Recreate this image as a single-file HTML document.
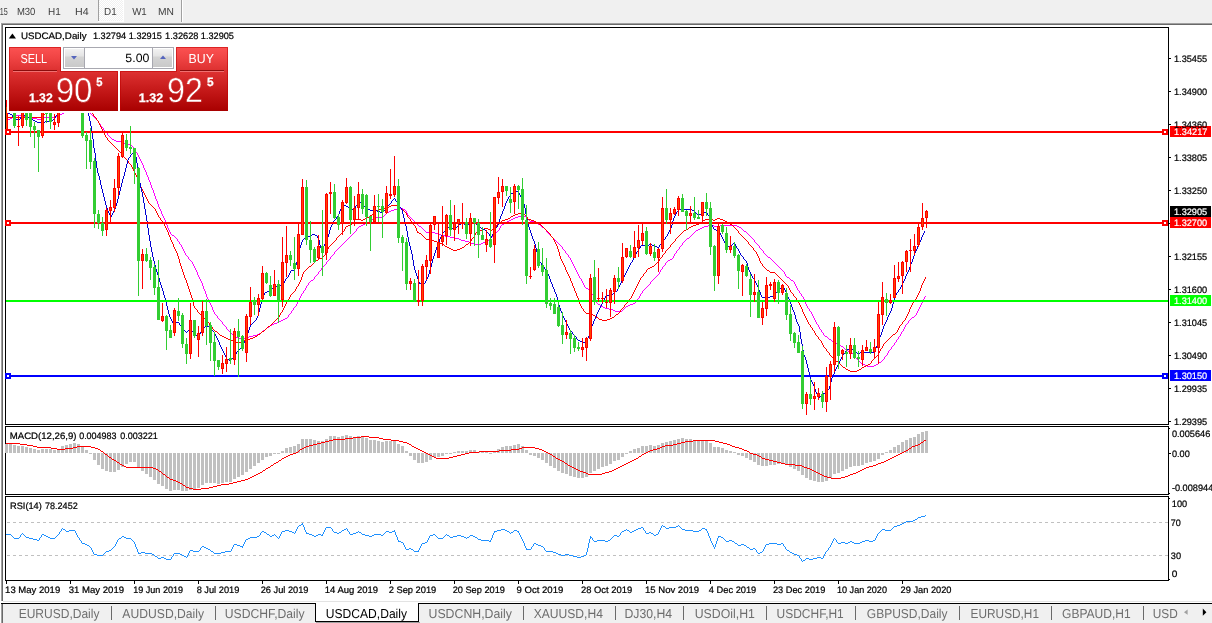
<!DOCTYPE html>
<html lang="en"><head><meta charset="utf-8"><title>USDCAD,Daily</title>
<style>html,body{margin:0;padding:0;background:#fff;overflow:hidden}body{width:1212px;height:623px}svg text{white-space:pre}</style>
</head><body>
<svg width="1212" height="623" viewBox="0 0 1212 623" font-family="'Liberation Sans', Arial, sans-serif" text-rendering="geometricPrecision" style="display:block">
<defs>
<linearGradient id="gbtn" x1="0" y1="47" x2="0" y2="71" gradientUnits="userSpaceOnUse"><stop offset="0" stop-color="#fc5252"/><stop offset="0.45" stop-color="#f04444"/><stop offset="1" stop-color="#dc3030"/></linearGradient>
<linearGradient id="gpan" x1="0" y1="71" x2="0" y2="111" gradientUnits="userSpaceOnUse"><stop offset="0" stop-color="#de3232"/><stop offset="0.5" stop-color="#c41818"/><stop offset="1" stop-color="#a80000"/></linearGradient>
<linearGradient id="gspin" x1="0" y1="48" x2="0" y2="68" gradientUnits="userSpaceOnUse"><stop offset="0" stop-color="#f4f4f4"/><stop offset="0.4" stop-color="#e4e4e4"/><stop offset="0.45" stop-color="#d4d4d4"/><stop offset="1" stop-color="#c8c8c8"/></linearGradient>
<pattern id="dith" width="2" height="2" patternUnits="userSpaceOnUse"><rect width="2" height="2" fill="#f0f0f0"/><rect width="1" height="1" fill="#ffffff"/><rect x="1" y="1" width="1" height="1" fill="#ffffff"/></pattern>
<clipPath id="cmain"><rect x="6" y="28" width="1162" height="396"/></clipPath>
<clipPath id="cright"><rect x="0" y="0" width="1212" height="623"/></clipPath>
</defs>
<rect x="0" y="0" width="1212" height="623" fill="#ffffff"/>
<rect x="0" y="0" width="1212" height="23" fill="#f0f0f0"/>
<rect x="1" y="23" width="1212" height="1" fill="#a0a0a0"/>
<rect x="2" y="24" width="1212" height="1" fill="#696969"/>
<rect x="99" y="0" width="24" height="21" fill="url(#dith)"/>
<rect x="98" y="0" width="1" height="21" fill="#a0a0a0"/>
<rect x="123" y="0" width="1" height="22" fill="#ffffff"/>
<rect x="98" y="21" width="26" height="1" fill="#ffffff"/>
<rect x="181" y="0" width="1" height="22" fill="#a0a0a0"/>
<rect x="182" y="0" width="1" height="22" fill="#ffffff"/>
<rect x="0" y="25" width="1" height="598" fill="#ffffff"/>
<rect x="1" y="23" width="1" height="600" fill="#a0a0a0"/>
<rect x="2" y="24" width="1" height="599" fill="#696969"/>
<rect x="3" y="601" width="1212" height="1" fill="#e3e3e3"/>
<rect x="3" y="602" width="1212" height="1" fill="#ffffff"/>
<rect x="1" y="601" width="2" height="2" fill="#ffffff"/>
<rect x="1" y="603" width="1212" height="1" fill="#000000"/>
<rect x="3" y="604" width="1212" height="19" fill="#f0f0f0"/>
<rect x="315" y="602" width="104" height="20" fill="#ffffff"/>
<rect x="315" y="603" width="1" height="19" fill="#000"/>
<rect x="418" y="603" width="1" height="19" fill="#000"/>
<rect x="315" y="621" width="104" height="1" fill="#000"/>
<rect x="316" y="603" width="102" height="1" fill="#ffffff"/>
<rect x="316" y="622" width="104" height="1" fill="#a0a0a0"/>
<rect x="111" y="606" width="1" height="14" fill="#6a6a6a"/>
<rect x="215" y="606" width="1" height="14" fill="#6a6a6a"/>
<rect x="523" y="606" width="1" height="14" fill="#6a6a6a"/>
<rect x="615" y="606" width="1" height="14" fill="#6a6a6a"/>
<rect x="683" y="606" width="1" height="14" fill="#6a6a6a"/>
<rect x="766" y="606" width="1" height="14" fill="#6a6a6a"/>
<rect x="855" y="606" width="1" height="14" fill="#6a6a6a"/>
<rect x="959" y="606" width="1" height="14" fill="#6a6a6a"/>
<rect x="1051" y="606" width="1" height="14" fill="#6a6a6a"/>
<rect x="1143" y="606" width="1" height="14" fill="#6a6a6a"/>
<path d="M1184 612.2 l3.6 -2.6 v5.2 z" fill="#a0a0a0"/>
<path d="M1206.4 612.2 l-3.6 -3.6 v7.2 z" fill="#000"/>
<rect x="5" y="27" width="1164" height="1" fill="#000"/>
<rect x="5" y="27" width="1" height="398" fill="#000"/>
<rect x="5" y="424" width="1164" height="1" fill="#000"/>
<rect x="1168" y="27" width="1" height="398" fill="#000"/>
<rect x="5" y="426" width="1164" height="1" fill="#000"/>
<rect x="5" y="426" width="1" height="69" fill="#000"/>
<rect x="5" y="494" width="1164" height="1" fill="#000"/>
<rect x="1168" y="426" width="1" height="69" fill="#000"/>
<rect x="5" y="496" width="1164" height="1" fill="#000"/>
<rect x="5" y="496" width="1" height="85" fill="#000"/>
<rect x="5" y="580" width="1164" height="1" fill="#000"/>
<rect x="1168" y="496" width="1" height="85" fill="#000"/>
<g shape-rendering="crispEdges">
<path d="M66 100h24v1h-24zM66 101h1v2h-1zM89 101h1v6h-1zM65 103h1v4h-1zM64 107h1v4h-1zM90 107h1v7h-1zM63 111h1v2h-1zM62 113h2v1h-2zM60 114h2v1h-2zM91 114h1v1h-1zM16 115h8v1h-8zM58 115h2v1h-2zM92 115h1v1h-1zM14 116h2v1h-2zM24 116h3v1h-3zM56 116h2v1h-2zM93 116h1v1h-1zM12 117h2v1h-2zM27 117h5v1h-5zM44 117h12v1h-12zM94 117h1v1h-1zM10 118h2v1h-2zM32 118h5v1h-5zM42 118h2v1h-2zM95 118h1v1h-1zM8 119h2v1h-2zM37 119h5v1h-5zM96 119h1v1h-1zM97 120h1v1h-1zM98 121h1v2h-1zM99 123h1v1h-1zM100 124h1v2h-1zM101 126h1v1h-1zM102 127h1v1h-1zM103 128h1v2h-1zM104 130h1v1h-1zM105 131h1v1h-1zM106 132h1v1h-1zM107 133h1v2h-1zM108 135h1v1h-1zM109 136h1v1h-1zM110 137h1v1h-1zM111 138h1v1h-1zM112 139h2v1h-2zM114 140h2v1h-2zM116 141h6v1h-6zM122 142h2v1h-2zM124 143h3v1h-3zM127 144h3v1h-3zM130 145h2v1h-2zM132 146h1v1h-1zM133 147h1v1h-1zM134 148h1v2h-1zM135 150h1v2h-1zM136 152h1v1h-1zM137 153h1v2h-1zM138 155h1v2h-1zM139 157h1v2h-1zM140 159h1v2h-1zM141 161h1v2h-1zM142 163h1v2h-1zM143 165h1v3h-1zM144 168h1v2h-1zM145 170h1v2h-1zM146 172h1v3h-1zM147 175h1v2h-1zM148 177h1v3h-1zM149 180h1v2h-1zM150 182h1v3h-1zM151 185h1v3h-1zM152 188h1v2h-1zM153 190h1v3h-1zM154 193h1v3h-1zM155 196h1v3h-1zM156 199h1v2h-1zM157 201h1v3h-1zM158 204h1v3h-1zM159 207h1v2h-1zM397 208h6v1h-6zM160 209h1v2h-1zM394 209h3v1h-3zM403 209h2v1h-2zM391 210h3v1h-3zM405 210h1v1h-1zM161 211h1v3h-1zM389 211h2v1h-2zM406 211h1v2h-1zM387 212h2v1h-2zM386 213h1v1h-1zM407 213h1v2h-1zM162 214h1v2h-1zM385 214h1v1h-1zM384 215h1v1h-1zM408 215h1v1h-1zM521 215h3v1h-3zM163 216h1v2h-1zM382 216h2v1h-2zM409 216h1v1h-1zM518 216h3v1h-3zM524 216h2v1h-2zM376 217h6v1h-6zM410 217h1v1h-1zM515 217h3v1h-3zM526 217h1v1h-1zM164 218h1v2h-1zM374 218h2v1h-2zM411 218h1v1h-1zM513 218h2v1h-2zM527 218h1v1h-1zM372 219h2v1h-2zM412 219h1v1h-1zM511 219h2v1h-2zM528 219h1v1h-1zM165 220h1v3h-1zM370 220h2v1h-2zM413 220h1v1h-1zM509 220h2v1h-2zM529 220h1v1h-1zM369 221h1v1h-1zM414 221h1v1h-1zM507 221h2v1h-2zM530 221h5v1h-5zM367 222h2v1h-2zM415 222h1v1h-1zM505 222h2v1h-2zM535 222h2v1h-2zM166 223h1v2h-1zM365 223h2v1h-2zM416 223h1v1h-1zM504 223h1v1h-1zM537 223h1v1h-1zM363 224h2v1h-2zM417 224h1v1h-1zM502 224h2v1h-2zM538 224h2v1h-2zM167 225h1v3h-1zM361 225h2v1h-2zM418 225h1v1h-1zM501 225h1v1h-1zM540 225h1v1h-1zM708 225h6v1h-6zM720 225h17v1h-17zM359 226h2v1h-2zM419 226h2v1h-2zM500 226h1v2h-1zM541 226h1v1h-1zM704 226h4v1h-4zM714 226h6v1h-6zM737 226h2v1h-2zM358 227h1v1h-1zM421 227h1v1h-1zM542 227h2v1h-2zM702 227h2v1h-2zM739 227h2v1h-2zM168 228h1v2h-1zM357 228h1v1h-1zM422 228h1v1h-1zM499 228h1v2h-1zM544 228h1v1h-1zM700 228h2v1h-2zM741 228h1v1h-1zM356 229h1v2h-1zM423 229h1v1h-1zM545 229h1v1h-1zM698 229h2v1h-2zM742 229h1v1h-1zM169 230h1v2h-1zM424 230h1v1h-1zM498 230h1v1h-1zM546 230h1v2h-1zM696 230h2v1h-2zM743 230h1v1h-1zM355 231h1v1h-1zM425 231h1v1h-1zM497 231h1v1h-1zM695 231h1v1h-1zM744 231h2v1h-2zM170 232h1v2h-1zM354 232h1v1h-1zM426 232h9v1h-9zM496 232h1v1h-1zM547 232h1v1h-1zM694 232h1v1h-1zM746 232h1v1h-1zM353 233h1v1h-1zM435 233h4v1h-4zM495 233h1v1h-1zM548 233h1v1h-1zM693 233h1v1h-1zM747 233h1v1h-1zM171 234h1v1h-1zM352 234h1v1h-1zM439 234h2v1h-2zM494 234h1v1h-1zM549 234h1v1h-1zM692 234h1v1h-1zM748 234h1v1h-1zM172 235h2v1h-2zM351 235h1v1h-1zM441 235h4v1h-4zM493 235h1v1h-1zM550 235h1v1h-1zM691 235h1v1h-1zM749 235h1v1h-1zM174 236h1v1h-1zM350 236h1v1h-1zM445 236h5v1h-5zM492 236h1v1h-1zM551 236h1v1h-1zM690 236h1v1h-1zM750 236h1v1h-1zM175 237h1v1h-1zM349 237h1v1h-1zM450 237h5v1h-5zM491 237h1v1h-1zM552 237h1v1h-1zM689 237h1v1h-1zM751 237h1v1h-1zM176 238h1v1h-1zM348 238h1v1h-1zM455 238h4v1h-4zM490 238h1v1h-1zM553 238h1v1h-1zM687 238h2v1h-2zM752 238h1v1h-1zM177 239h1v2h-1zM347 239h1v1h-1zM459 239h2v1h-2zM489 239h1v1h-1zM554 239h1v1h-1zM686 239h1v1h-1zM753 239h1v1h-1zM346 240h1v1h-1zM461 240h4v1h-4zM488 240h1v1h-1zM555 240h1v1h-1zM685 240h1v1h-1zM754 240h1v2h-1zM178 241h1v1h-1zM345 241h1v1h-1zM465 241h4v1h-4zM487 241h1v1h-1zM556 241h1v1h-1zM684 241h1v1h-1zM179 242h1v2h-1zM344 242h1v1h-1zM469 242h2v1h-2zM483 242h4v1h-4zM557 242h1v1h-1zM683 242h1v1h-1zM755 242h1v1h-1zM343 243h1v1h-1zM471 243h3v1h-3zM481 243h2v1h-2zM558 243h1v1h-1zM682 243h1v2h-1zM756 243h1v1h-1zM180 244h1v1h-1zM342 244h1v1h-1zM474 244h7v1h-7zM559 244h1v1h-1zM757 244h1v1h-1zM181 245h1v2h-1zM341 245h1v1h-1zM560 245h1v1h-1zM681 245h1v1h-1zM758 245h1v1h-1zM340 246h1v1h-1zM561 246h1v1h-1zM680 246h1v1h-1zM759 246h1v2h-1zM182 247h1v2h-1zM339 247h1v1h-1zM562 247h1v2h-1zM679 247h1v2h-1zM338 248h1v1h-1zM760 248h1v1h-1zM183 249h1v2h-1zM337 249h1v1h-1zM563 249h1v1h-1zM678 249h1v1h-1zM761 249h1v1h-1zM336 250h1v1h-1zM564 250h1v1h-1zM677 250h1v1h-1zM762 250h1v1h-1zM184 251h1v2h-1zM335 251h1v1h-1zM565 251h1v2h-1zM676 251h1v2h-1zM763 251h1v2h-1zM334 252h1v2h-1zM185 253h1v2h-1zM566 253h1v1h-1zM675 253h1v1h-1zM764 253h1v1h-1zM333 254h1v1h-1zM567 254h1v1h-1zM674 254h1v2h-1zM765 254h1v1h-1zM186 255h1v1h-1zM332 255h1v1h-1zM568 255h1v2h-1zM766 255h1v1h-1zM187 256h1v1h-1zM331 256h1v1h-1zM673 256h1v2h-1zM767 256h1v1h-1zM188 257h1v2h-1zM330 257h1v2h-1zM569 257h1v1h-1zM768 257h2v1h-2zM570 258h1v2h-1zM672 258h1v1h-1zM770 258h1v1h-1zM189 259h1v1h-1zM329 259h1v1h-1zM670 259h2v1h-2zM771 259h1v1h-1zM190 260h1v1h-1zM328 260h1v1h-1zM571 260h1v2h-1zM668 260h2v1h-2zM772 260h1v1h-1zM191 261h1v1h-1zM327 261h1v1h-1zM667 261h1v1h-1zM773 261h1v1h-1zM192 262h1v2h-1zM326 262h1v2h-1zM572 262h1v2h-1zM666 262h1v1h-1zM774 262h1v1h-1zM665 263h1v2h-1zM775 263h1v1h-1zM193 264h1v2h-1zM325 264h1v1h-1zM573 264h1v2h-1zM776 264h1v1h-1zM324 265h1v1h-1zM664 265h1v1h-1zM777 265h1v1h-1zM194 266h1v2h-1zM323 266h1v1h-1zM574 266h1v2h-1zM663 266h1v1h-1zM778 266h1v1h-1zM322 267h1v1h-1zM662 267h1v2h-1zM779 267h1v1h-1zM195 268h1v2h-1zM321 268h1v2h-1zM575 268h1v2h-1zM780 268h1v1h-1zM661 269h1v1h-1zM781 269h1v1h-1zM196 270h1v2h-1zM320 270h1v1h-1zM576 270h1v2h-1zM660 270h1v2h-1zM782 270h1v1h-1zM319 271h1v1h-1zM783 271h1v1h-1zM197 272h1v3h-1zM318 272h1v2h-1zM577 272h1v2h-1zM659 272h1v2h-1zM784 272h1v2h-1zM317 274h1v1h-1zM578 274h1v2h-1zM658 274h1v1h-1zM785 274h1v2h-1zM198 275h1v2h-1zM316 275h1v1h-1zM657 275h1v1h-1zM315 276h1v1h-1zM579 276h1v2h-1zM656 276h1v1h-1zM786 276h1v1h-1zM199 277h1v2h-1zM314 277h1v2h-1zM655 277h1v1h-1zM787 277h2v1h-2zM580 278h1v1h-1zM654 278h1v1h-1zM789 278h1v1h-1zM200 279h1v2h-1zM313 279h1v1h-1zM581 279h1v2h-1zM653 279h1v1h-1zM790 279h1v1h-1zM311 280h2v1h-2zM652 280h1v1h-1zM791 280h2v1h-2zM201 281h1v2h-1zM310 281h1v1h-1zM582 281h1v2h-1zM651 281h1v1h-1zM793 281h1v1h-1zM309 282h1v1h-1zM650 282h1v2h-1zM794 282h1v2h-1zM202 283h1v3h-1zM308 283h1v2h-1zM583 283h1v2h-1zM649 284h1v1h-1zM795 284h1v2h-1zM307 285h1v1h-1zM584 285h1v2h-1zM648 285h1v1h-1zM203 286h1v3h-1zM306 286h1v2h-1zM647 286h1v1h-1zM796 286h1v2h-1zM585 287h1v1h-1zM646 287h1v1h-1zM305 288h1v2h-1zM586 288h2v1h-2zM645 288h1v1h-1zM797 288h1v2h-1zM204 289h1v2h-1zM588 289h1v1h-1zM644 289h1v1h-1zM304 290h1v1h-1zM589 290h1v1h-1zM643 290h1v1h-1zM798 290h1v1h-1zM205 291h1v3h-1zM303 291h1v2h-1zM590 291h1v1h-1zM642 291h1v2h-1zM799 291h1v2h-1zM591 292h1v2h-1zM302 293h1v1h-1zM641 293h1v1h-1zM800 293h1v1h-1zM206 294h1v3h-1zM301 294h1v2h-1zM592 294h1v1h-1zM640 294h1v2h-1zM801 294h1v2h-1zM593 295h1v2h-1zM300 296h1v2h-1zM639 296h1v2h-1zM802 296h1v1h-1zM925 296h1v1h-1zM207 297h1v2h-1zM594 297h1v2h-1zM803 297h1v2h-1zM924 297h1v2h-1zM299 298h1v2h-1zM638 298h1v1h-1zM208 299h1v2h-1zM595 299h1v2h-1zM637 299h1v1h-1zM804 299h1v2h-1zM923 299h1v2h-1zM298 300h1v2h-1zM636 300h1v2h-1zM209 301h1v2h-1zM596 301h1v2h-1zM805 301h1v3h-1zM922 301h1v2h-1zM297 302h1v2h-1zM635 302h1v1h-1zM210 303h1v2h-1zM597 303h1v1h-1zM633 303h2v1h-2zM921 303h1v2h-1zM296 304h1v2h-1zM598 304h2v1h-2zM630 304h3v1h-3zM806 304h1v2h-1zM211 305h1v2h-1zM600 305h1v1h-1zM628 305h2v1h-2zM920 305h1v2h-1zM295 306h1v1h-1zM601 306h2v1h-2zM626 306h2v1h-2zM807 306h1v2h-1zM212 307h1v3h-1zM294 307h1v1h-1zM603 307h2v1h-2zM625 307h1v1h-1zM919 307h1v2h-1zM293 308h1v2h-1zM605 308h4v1h-4zM624 308h1v1h-1zM808 308h1v1h-1zM609 309h4v1h-4zM623 309h1v1h-1zM809 309h1v2h-1zM918 309h1v2h-1zM213 310h1v2h-1zM292 310h1v1h-1zM613 310h2v1h-2zM622 310h1v1h-1zM291 311h1v2h-1zM615 311h7v1h-7zM810 311h1v1h-1zM917 311h1v2h-1zM214 312h1v2h-1zM811 312h1v2h-1zM290 313h1v1h-1zM916 313h1v2h-1zM215 314h1v1h-1zM289 314h1v1h-1zM812 314h1v2h-1zM216 315h1v1h-1zM288 315h1v2h-1zM915 315h1v1h-1zM217 316h1v2h-1zM813 316h1v2h-1zM914 316h1v1h-1zM287 317h1v1h-1zM912 317h2v1h-2zM218 318h1v1h-1zM285 318h2v1h-2zM814 318h1v2h-1zM911 318h1v1h-1zM219 319h1v1h-1zM283 319h2v1h-2zM910 319h1v1h-1zM220 320h1v1h-1zM281 320h2v1h-2zM815 320h1v2h-1zM909 320h1v1h-1zM221 321h1v1h-1zM279 321h2v1h-2zM908 321h1v2h-1zM222 322h1v2h-1zM277 322h2v1h-2zM816 322h1v2h-1zM274 323h3v1h-3zM907 323h1v1h-1zM223 324h1v1h-1zM272 324h2v1h-2zM817 324h1v1h-1zM906 324h1v1h-1zM224 325h1v1h-1zM270 325h2v1h-2zM818 325h1v2h-1zM905 325h1v2h-1zM225 326h1v1h-1zM269 326h1v1h-1zM226 327h1v2h-1zM267 327h2v1h-2zM819 327h1v2h-1zM904 327h1v2h-1zM266 328h1v1h-1zM227 329h1v1h-1zM265 329h1v1h-1zM820 329h1v1h-1zM903 329h1v2h-1zM228 330h1v1h-1zM263 330h2v1h-2zM821 330h1v2h-1zM229 331h1v1h-1zM262 331h1v1h-1zM902 331h1v1h-1zM230 332h1v1h-1zM261 332h1v1h-1zM822 332h1v1h-1zM901 332h1v2h-1zM231 333h1v1h-1zM259 333h2v1h-2zM823 333h1v2h-1zM232 334h1v1h-1zM257 334h2v1h-2zM900 334h1v2h-1zM233 335h1v1h-1zM253 335h4v1h-4zM824 335h1v1h-1zM234 336h2v1h-2zM249 336h4v1h-4zM825 336h2v1h-2zM899 336h1v1h-1zM236 337h2v1h-2zM247 337h2v1h-2zM827 337h1v1h-1zM898 337h1v2h-1zM238 338h9v1h-9zM828 338h1v1h-1zM829 339h2v1h-2zM897 339h1v1h-1zM831 340h1v1h-1zM896 340h1v2h-1zM832 341h2v1h-2zM834 342h1v1h-1zM895 342h1v1h-1zM835 343h2v1h-2zM894 343h1v2h-1zM837 344h2v1h-2zM839 345h2v1h-2zM893 345h1v1h-1zM841 346h2v1h-2zM892 346h1v1h-1zM843 347h1v1h-1zM891 347h1v2h-1zM844 348h1v1h-1zM845 349h1v1h-1zM890 349h1v1h-1zM846 350h2v1h-2zM889 350h1v1h-1zM848 351h2v1h-2zM888 351h1v2h-1zM850 352h1v1h-1zM851 353h2v1h-2zM887 353h1v2h-1zM853 354h1v1h-1zM854 355h1v1h-1zM886 355h1v1h-1zM855 356h1v2h-1zM885 356h1v1h-1zM884 357h1v2h-1zM856 358h1v1h-1zM857 359h1v1h-1zM883 359h1v1h-1zM858 360h1v1h-1zM882 360h1v1h-1zM859 361h1v1h-1zM881 361h1v1h-1zM860 362h1v1h-1zM879 362h2v1h-2zM861 363h2v1h-2zM878 363h1v1h-1zM863 364h2v1h-2zM876 364h2v1h-2zM865 365h2v1h-2zM874 365h2v1h-2zM867 366h7v1h-7z" fill="#ff00ff"/>
<path d="M60 100h32v1h-32zM59 101h1v1h-1zM91 101h1v6h-1zM58 102h1v1h-1zM56 103h2v1h-2zM55 104h1v1h-1zM54 105h1v1h-1zM53 106h1v1h-1zM52 107h1v1h-1zM92 107h1v7h-1zM51 108h1v1h-1zM49 109h2v1h-2zM48 110h1v1h-1zM47 111h1v1h-1zM46 112h1v1h-1zM45 113h1v1h-1zM43 114h2v1h-2zM93 114h1v2h-1zM42 115h1v1h-1zM41 116h1v1h-1zM94 116h1v1h-1zM6 117h35v1h-35zM95 117h1v1h-1zM96 118h1v2h-1zM97 120h1v1h-1zM98 121h1v2h-1zM99 123h1v2h-1zM100 125h1v2h-1zM101 127h1v2h-1zM102 129h1v2h-1zM103 131h1v2h-1zM104 133h1v2h-1zM105 135h1v2h-1zM106 137h1v1h-1zM107 138h1v2h-1zM108 140h1v1h-1zM109 141h1v1h-1zM110 142h1v1h-1zM111 143h1v1h-1zM112 144h1v1h-1zM113 145h1v1h-1zM114 146h1v1h-1zM115 147h1v1h-1zM116 148h1v1h-1zM117 149h1v1h-1zM118 150h1v1h-1zM119 151h1v1h-1zM120 152h1v1h-1zM121 153h1v1h-1zM122 154h1v1h-1zM123 155h1v2h-1zM124 157h1v1h-1zM125 158h1v1h-1zM126 159h1v1h-1zM127 160h1v1h-1zM128 161h1v2h-1zM129 163h1v1h-1zM130 164h1v1h-1zM131 165h1v2h-1zM132 167h1v2h-1zM133 169h1v2h-1zM134 171h1v2h-1zM135 173h1v2h-1zM136 175h1v2h-1zM137 177h1v2h-1zM138 179h1v3h-1zM139 182h1v3h-1zM140 185h1v2h-1zM141 187h1v2h-1zM142 189h1v2h-1zM143 191h1v2h-1zM144 193h1v2h-1zM145 195h1v2h-1zM146 197h1v2h-1zM147 199h1v2h-1zM148 201h1v2h-1zM149 203h1v1h-1zM150 204h1v1h-1zM151 205h1v1h-1zM391 205h6v1h-6zM152 206h1v1h-1zM389 206h2v1h-2zM397 206h2v1h-2zM153 207h1v1h-1zM386 207h3v1h-3zM399 207h2v1h-2zM154 208h1v1h-1zM383 208h3v1h-3zM401 208h1v1h-1zM155 209h1v2h-1zM379 209h4v1h-4zM402 209h1v1h-1zM376 210h3v1h-3zM403 210h1v1h-1zM156 211h1v2h-1zM375 211h1v1h-1zM404 211h1v1h-1zM374 212h1v1h-1zM405 212h1v1h-1zM157 213h1v2h-1zM373 213h1v1h-1zM406 213h1v2h-1zM518 213h5v1h-5zM372 214h1v1h-1zM515 214h3v1h-3zM523 214h2v1h-2zM158 215h1v2h-1zM370 215h2v1h-2zM407 215h1v2h-1zM513 215h2v1h-2zM525 215h1v1h-1zM369 216h1v1h-1zM511 216h2v1h-2zM526 216h1v1h-1zM159 217h1v1h-1zM367 217h2v1h-2zM408 217h1v1h-1zM510 217h1v1h-1zM527 217h1v2h-1zM160 218h1v2h-1zM365 218h2v1h-2zM409 218h1v1h-1zM508 218h2v1h-2zM717 218h3v1h-3zM355 219h6v1h-6zM363 219h2v1h-2zM410 219h1v2h-1zM505 219h3v1h-3zM528 219h3v1h-3zM705 219h8v1h-8zM715 219h2v1h-2zM720 219h3v1h-3zM161 220h1v1h-1zM354 220h1v2h-1zM361 220h2v1h-2zM502 220h3v1h-3zM531 220h3v1h-3zM703 220h2v1h-2zM713 220h2v1h-2zM723 220h2v1h-2zM162 221h1v1h-1zM411 221h1v1h-1zM501 221h1v1h-1zM534 221h2v1h-2zM702 221h1v1h-1zM725 221h2v1h-2zM163 222h1v2h-1zM353 222h1v1h-1zM412 222h1v1h-1zM499 222h2v1h-2zM536 222h1v1h-1zM700 222h2v1h-2zM727 222h2v1h-2zM352 223h1v1h-1zM413 223h1v2h-1zM498 223h1v1h-1zM537 223h2v1h-2zM699 223h1v1h-1zM729 223h1v1h-1zM164 224h1v2h-1zM350 224h2v1h-2zM497 224h1v1h-1zM539 224h2v1h-2zM696 224h3v1h-3zM730 224h2v1h-2zM348 225h2v1h-2zM414 225h1v1h-1zM496 225h1v2h-1zM541 225h1v1h-1zM693 225h3v1h-3zM732 225h1v1h-1zM165 226h1v2h-1zM346 226h2v1h-2zM415 226h1v2h-1zM542 226h1v1h-1zM691 226h2v1h-2zM733 226h1v1h-1zM345 227h1v2h-1zM495 227h1v1h-1zM543 227h1v1h-1zM689 227h2v1h-2zM734 227h1v1h-1zM166 228h1v2h-1zM416 228h1v3h-1zM484 228h4v1h-4zM494 228h1v1h-1zM544 228h1v1h-1zM688 228h1v1h-1zM735 228h1v1h-1zM344 229h1v2h-1zM482 229h2v1h-2zM488 229h2v1h-2zM492 229h2v1h-2zM545 229h1v1h-1zM686 229h2v1h-2zM736 229h1v1h-1zM167 230h1v2h-1zM480 230h2v1h-2zM490 230h2v1h-2zM546 230h1v1h-1zM684 230h2v1h-2zM737 230h1v1h-1zM343 231h1v1h-1zM417 231h1v1h-1zM478 231h2v1h-2zM547 231h1v1h-1zM683 231h1v1h-1zM738 231h1v2h-1zM168 232h1v3h-1zM342 232h1v1h-1zM417 232h2v1h-2zM476 232h2v1h-2zM548 232h1v1h-1zM682 232h1v1h-1zM341 233h1v1h-1zM419 233h2v1h-2zM475 233h1v2h-1zM549 233h1v1h-1zM681 233h1v1h-1zM739 233h1v1h-1zM340 234h1v1h-1zM421 234h1v1h-1zM550 234h1v2h-1zM680 234h1v1h-1zM740 234h1v1h-1zM169 235h1v2h-1zM339 235h1v1h-1zM422 235h1v1h-1zM474 235h1v2h-1zM679 235h1v1h-1zM741 235h1v1h-1zM338 236h1v1h-1zM423 236h1v1h-1zM551 236h1v1h-1zM678 236h1v1h-1zM742 236h1v1h-1zM170 237h1v3h-1zM337 237h1v1h-1zM424 237h1v1h-1zM473 237h1v1h-1zM552 237h1v1h-1zM677 237h1v1h-1zM743 237h1v1h-1zM336 238h1v2h-1zM425 238h1v1h-1zM472 238h1v1h-1zM553 238h1v2h-1zM676 238h1v1h-1zM744 238h1v1h-1zM426 239h4v1h-4zM471 239h1v2h-1zM675 239h1v2h-1zM745 239h1v1h-1zM171 240h1v2h-1zM335 240h1v1h-1zM430 240h4v1h-4zM554 240h1v2h-1zM746 240h1v1h-1zM334 241h1v1h-1zM434 241h3v1h-3zM470 241h1v1h-1zM674 241h1v1h-1zM747 241h1v1h-1zM172 242h1v2h-1zM333 242h1v1h-1zM437 242h3v1h-3zM469 242h1v1h-1zM555 242h1v2h-1zM673 242h1v1h-1zM748 242h1v2h-1zM332 243h1v1h-1zM440 243h2v1h-2zM468 243h1v1h-1zM672 243h1v1h-1zM173 244h1v3h-1zM331 244h1v1h-1zM442 244h2v1h-2zM466 244h2v1h-2zM556 244h1v2h-1zM671 244h1v1h-1zM749 244h1v1h-1zM330 245h1v1h-1zM444 245h1v1h-1zM465 245h1v1h-1zM670 245h1v2h-1zM750 245h1v1h-1zM329 246h1v1h-1zM445 246h2v1h-2zM464 246h1v1h-1zM557 246h1v3h-1zM751 246h1v1h-1zM174 247h1v2h-1zM328 247h1v2h-1zM447 247h2v1h-2zM462 247h2v1h-2zM669 247h1v1h-1zM752 247h1v1h-1zM449 248h2v1h-2zM460 248h2v1h-2zM668 248h1v1h-1zM753 248h1v2h-1zM175 249h1v2h-1zM327 249h1v2h-1zM451 249h2v1h-2zM457 249h3v1h-3zM558 249h1v3h-1zM667 249h1v1h-1zM453 250h4v1h-4zM666 250h1v1h-1zM754 250h1v1h-1zM176 251h1v2h-1zM326 251h1v2h-1zM665 251h1v2h-1zM755 251h1v1h-1zM559 252h1v4h-1zM756 252h1v2h-1zM177 253h1v3h-1zM325 253h1v2h-1zM664 253h1v1h-1zM663 254h1v1h-1zM757 254h1v2h-1zM324 255h1v1h-1zM662 255h1v2h-1zM178 256h1v3h-1zM323 256h1v1h-1zM560 256h1v3h-1zM758 256h1v2h-1zM322 257h1v1h-1zM661 257h1v1h-1zM319 258h3v1h-3zM660 258h1v1h-1zM759 258h1v3h-1zM179 259h1v4h-1zM318 259h1v1h-1zM561 259h1v2h-1zM659 259h1v2h-1zM316 260h2v1h-2zM315 261h1v1h-1zM562 261h1v2h-1zM658 261h1v1h-1zM760 261h1v2h-1zM314 262h1v1h-1zM657 262h1v1h-1zM180 263h1v3h-1zM313 263h1v1h-1zM563 263h1v2h-1zM656 263h1v1h-1zM761 263h1v1h-1zM312 264h1v1h-1zM655 264h1v1h-1zM762 264h1v2h-1zM311 265h1v1h-1zM564 265h1v2h-1zM654 265h1v1h-1zM181 266h1v3h-1zM309 266h2v1h-2zM652 266h2v1h-2zM763 266h1v1h-1zM308 267h1v1h-1zM565 267h1v3h-1zM650 267h2v1h-2zM764 267h1v1h-1zM307 268h1v1h-1zM648 268h2v1h-2zM765 268h1v1h-1zM182 269h1v3h-1zM306 269h1v1h-1zM647 269h1v1h-1zM766 269h1v1h-1zM305 270h1v1h-1zM566 270h1v2h-1zM646 270h1v2h-1zM767 270h2v1h-2zM304 271h1v1h-1zM769 271h1v1h-1zM183 272h1v3h-1zM303 272h1v2h-1zM567 272h1v2h-1zM645 272h1v1h-1zM770 272h5v1h-5zM644 273h1v1h-1zM775 273h1v1h-1zM302 274h1v3h-1zM568 274h1v2h-1zM643 274h1v2h-1zM776 274h1v1h-1zM184 275h1v3h-1zM777 275h1v1h-1zM569 276h1v2h-1zM642 276h1v1h-1zM778 276h1v1h-1zM301 277h1v3h-1zM641 277h1v1h-1zM779 277h1v1h-1zM925 277h1v2h-1zM185 278h1v2h-1zM570 278h1v3h-1zM640 278h1v2h-1zM780 278h1v1h-1zM781 279h1v1h-1zM924 279h1v2h-1zM186 280h1v3h-1zM300 280h1v2h-1zM639 280h1v2h-1zM782 280h1v1h-1zM571 281h1v2h-1zM783 281h1v1h-1zM923 281h1v2h-1zM299 282h1v2h-1zM638 282h1v2h-1zM784 282h1v1h-1zM187 283h1v3h-1zM572 283h1v3h-1zM785 283h1v1h-1zM922 283h1v2h-1zM298 284h1v2h-1zM637 284h1v2h-1zM786 284h1v1h-1zM787 285h1v1h-1zM921 285h1v3h-1zM188 286h1v3h-1zM297 286h1v1h-1zM573 286h1v2h-1zM636 286h1v2h-1zM788 286h1v2h-1zM296 287h1v2h-1zM574 288h1v3h-1zM635 288h1v2h-1zM789 288h1v2h-1zM920 288h1v3h-1zM189 289h1v3h-1zM295 289h1v2h-1zM634 290h1v2h-1zM790 290h1v2h-1zM294 291h1v1h-1zM575 291h1v2h-1zM919 291h1v2h-1zM190 292h1v3h-1zM293 292h1v1h-1zM633 292h1v2h-1zM791 292h1v1h-1zM292 293h1v1h-1zM576 293h1v3h-1zM792 293h1v1h-1zM918 293h1v2h-1zM291 294h1v1h-1zM632 294h1v2h-1zM793 294h1v2h-1zM191 295h1v3h-1zM290 295h1v2h-1zM917 295h1v2h-1zM577 296h1v2h-1zM631 296h1v2h-1zM794 296h1v1h-1zM289 297h1v2h-1zM795 297h1v1h-1zM916 297h1v2h-1zM192 298h1v4h-1zM578 298h1v3h-1zM630 298h1v1h-1zM796 298h1v2h-1zM288 299h1v1h-1zM629 299h1v1h-1zM915 299h1v1h-1zM287 300h1v2h-1zM628 300h1v2h-1zM797 300h1v1h-1zM914 300h1v2h-1zM579 301h1v3h-1zM798 301h1v2h-1zM193 302h1v4h-1zM286 302h1v2h-1zM627 302h1v1h-1zM913 302h1v1h-1zM626 303h1v1h-1zM799 303h1v2h-1zM912 303h1v2h-1zM285 304h1v2h-1zM580 304h1v2h-1zM625 304h1v1h-1zM624 305h1v2h-1zM800 305h1v2h-1zM911 305h1v2h-1zM194 306h1v2h-1zM284 306h1v2h-1zM581 306h1v2h-1zM623 307h1v1h-1zM801 307h1v2h-1zM910 307h1v2h-1zM195 308h1v1h-1zM283 308h1v2h-1zM582 308h1v1h-1zM622 308h1v1h-1zM196 309h1v1h-1zM583 309h1v2h-1zM621 309h1v1h-1zM802 309h1v3h-1zM909 309h1v3h-1zM197 310h1v2h-1zM282 310h1v2h-1zM620 310h1v2h-1zM584 311h1v1h-1zM198 312h1v1h-1zM281 312h1v1h-1zM585 312h1v1h-1zM619 312h1v1h-1zM803 312h1v2h-1zM908 312h1v2h-1zM199 313h1v1h-1zM280 313h1v2h-1zM586 313h3v1h-3zM618 313h1v1h-1zM200 314h1v1h-1zM589 314h4v1h-4zM616 314h2v1h-2zM804 314h1v2h-1zM907 314h1v2h-1zM201 315h1v1h-1zM279 315h1v2h-1zM593 315h2v1h-2zM615 315h1v1h-1zM202 316h1v1h-1zM595 316h1v1h-1zM614 316h1v1h-1zM805 316h1v2h-1zM906 316h1v2h-1zM203 317h1v1h-1zM278 317h1v1h-1zM596 317h2v1h-2zM612 317h2v1h-2zM204 318h1v1h-1zM277 318h1v1h-1zM598 318h1v1h-1zM610 318h2v1h-2zM806 318h1v2h-1zM905 318h1v2h-1zM205 319h1v1h-1zM276 319h1v1h-1zM599 319h3v1h-3zM607 319h3v1h-3zM206 320h1v1h-1zM275 320h1v1h-1zM602 320h5v1h-5zM807 320h1v2h-1zM904 320h1v1h-1zM207 321h1v1h-1zM274 321h1v1h-1zM903 321h1v1h-1zM208 322h1v1h-1zM273 322h1v1h-1zM808 322h1v2h-1zM902 322h1v2h-1zM209 323h1v2h-1zM272 323h1v1h-1zM271 324h1v1h-1zM809 324h1v1h-1zM901 324h1v1h-1zM210 325h1v1h-1zM270 325h1v1h-1zM810 325h1v2h-1zM900 325h1v1h-1zM211 326h1v1h-1zM268 326h2v1h-2zM899 326h1v2h-1zM212 327h1v2h-1zM267 327h1v1h-1zM811 327h1v1h-1zM266 328h1v1h-1zM812 328h1v2h-1zM898 328h1v2h-1zM213 329h1v1h-1zM265 329h1v1h-1zM214 330h1v1h-1zM264 330h1v1h-1zM813 330h1v1h-1zM897 330h1v2h-1zM215 331h2v1h-2zM262 331h2v1h-2zM814 331h1v2h-1zM217 332h1v1h-1zM261 332h1v1h-1zM896 332h1v1h-1zM218 333h1v1h-1zM260 333h1v1h-1zM815 333h1v2h-1zM895 333h1v1h-1zM219 334h1v1h-1zM258 334h2v1h-2zM893 334h2v1h-2zM220 335h2v1h-2zM257 335h1v1h-1zM816 335h1v1h-1zM892 335h1v1h-1zM222 336h2v1h-2zM255 336h2v1h-2zM817 336h1v1h-1zM891 336h1v1h-1zM224 337h2v1h-2zM253 337h2v1h-2zM818 337h1v2h-1zM890 337h1v1h-1zM226 338h2v1h-2zM250 338h3v1h-3zM889 338h1v1h-1zM228 339h3v1h-3zM246 339h4v1h-4zM819 339h1v1h-1zM888 339h1v1h-1zM231 340h3v1h-3zM244 340h2v1h-2zM820 340h1v1h-1zM887 340h1v1h-1zM234 341h2v1h-2zM242 341h2v1h-2zM821 341h1v2h-1zM886 341h1v1h-1zM236 342h6v1h-6zM885 342h1v1h-1zM822 343h1v2h-1zM884 343h1v1h-1zM883 344h1v2h-1zM823 345h1v2h-1zM882 346h1v2h-1zM824 347h1v1h-1zM825 348h1v1h-1zM881 348h1v1h-1zM826 349h1v2h-1zM880 349h1v2h-1zM827 351h1v1h-1zM879 351h1v2h-1zM828 352h1v1h-1zM829 353h1v2h-1zM878 353h1v2h-1zM830 355h1v1h-1zM877 355h1v1h-1zM831 356h1v1h-1zM876 356h1v1h-1zM832 357h1v1h-1zM875 357h1v1h-1zM833 358h1v1h-1zM874 358h1v1h-1zM834 359h1v1h-1zM873 359h1v1h-1zM835 360h1v1h-1zM872 360h1v1h-1zM836 361h2v1h-2zM871 361h1v2h-1zM838 362h1v1h-1zM839 363h1v1h-1zM870 363h1v1h-1zM840 364h1v1h-1zM868 364h2v1h-2zM841 365h1v1h-1zM866 365h2v1h-2zM842 366h1v1h-1zM864 366h2v1h-2zM843 367h2v1h-2zM862 367h2v1h-2zM845 368h1v1h-1zM861 368h1v1h-1zM846 369h2v1h-2zM859 369h2v1h-2zM848 370h2v1h-2zM857 370h2v1h-2zM850 371h7v1h-7z" fill="#ff0000"/>
<path d="M59 100h29v1h-29zM59 101h1v3h-1zM87 101h1v6h-1zM58 104h1v7h-1zM88 107h1v9h-1zM57 111h1v4h-1zM8 113h2v1h-2zM10 114h2v1h-2zM12 115h1v2h-1zM24 115h2v1h-2zM56 115h1v1h-1zM21 116h3v1h-3zM26 116h2v1h-2zM55 116h1v2h-1zM89 116h1v5h-1zM13 117h1v1h-1zM20 117h1v2h-1zM28 117h1v1h-1zM14 118h2v1h-2zM29 118h2v1h-2zM54 118h1v1h-1zM16 119h4v1h-4zM31 119h2v1h-2zM53 119h1v1h-1zM33 120h2v1h-2zM51 120h2v1h-2zM35 121h2v1h-2zM45 121h6v1h-6zM90 121h1v5h-1zM37 122h8v1h-8zM91 126h1v6h-1zM92 132h1v7h-1zM93 139h1v9h-1zM94 148h1v5h-1zM133 152h2v1h-2zM95 153h1v8h-1zM132 153h1v1h-1zM135 153h1v4h-1zM131 154h1v1h-1zM130 155h1v2h-1zM129 157h1v1h-1zM136 157h1v6h-1zM128 158h1v2h-1zM127 160h1v4h-1zM96 161h1v7h-1zM137 163h1v7h-1zM126 164h1v4h-1zM97 168h1v5h-1zM125 168h1v4h-1zM138 170h1v7h-1zM124 172h1v4h-1zM98 173h1v3h-1zM99 176h1v4h-1zM123 176h1v3h-1zM139 177h1v6h-1zM122 179h1v4h-1zM100 180h1v5h-1zM121 183h1v4h-1zM140 183h1v5h-1zM101 185h1v4h-1zM120 187h1v4h-1zM141 188h1v4h-1zM102 189h1v4h-1zM119 191h1v4h-1zM515 191h4v1h-4zM142 192h1v5h-1zM513 192h2v1h-2zM518 192h1v1h-1zM103 193h1v4h-1zM511 193h2v1h-2zM519 193h1v2h-1zM510 194h1v2h-1zM118 195h1v4h-1zM520 195h1v2h-1zM509 196h1v1h-1zM104 197h1v4h-1zM143 197h1v6h-1zM508 197h1v2h-1zM521 197h1v2h-1zM394 198h1v1h-1zM117 199h1v4h-1zM393 199h1v1h-1zM395 199h1v2h-1zM507 199h1v2h-1zM522 199h1v3h-1zM392 200h1v1h-1zM105 201h1v4h-1zM391 201h1v2h-1zM396 201h1v1h-1zM506 201h1v2h-1zM360 202h1v1h-1zM397 202h1v2h-1zM523 202h1v2h-1zM116 203h1v3h-1zM144 203h1v6h-1zM358 203h2v1h-2zM361 203h1v1h-1zM390 203h1v1h-1zM505 203h1v3h-1zM357 204h1v1h-1zM362 204h1v1h-1zM389 204h1v1h-1zM398 204h1v1h-1zM524 204h1v4h-1zM106 205h1v3h-1zM344 205h2v1h-2zM356 205h1v1h-1zM363 205h1v1h-1zM388 205h1v1h-1zM399 205h1v2h-1zM115 206h1v3h-1zM343 206h1v1h-1zM346 206h2v1h-2zM355 206h1v2h-1zM364 206h1v1h-1zM387 206h1v2h-1zM504 206h1v3h-1zM342 207h1v1h-1zM348 207h1v1h-1zM365 207h2v1h-2zM400 207h1v1h-1zM107 208h1v3h-1zM341 208h1v1h-1zM349 208h1v1h-1zM353 208h2v1h-2zM367 208h1v1h-1zM386 208h1v1h-1zM401 208h1v2h-1zM525 208h1v6h-1zM114 209h1v2h-1zM145 209h1v6h-1zM340 209h1v2h-1zM350 209h3v1h-3zM368 209h2v1h-2zM373 209h2v1h-2zM385 209h1v1h-1zM503 209h1v2h-1zM679 209h13v1h-13zM370 210h3v1h-3zM375 210h2v1h-2zM384 210h1v1h-1zM402 210h1v4h-1zM678 210h1v1h-1zM692 210h2v1h-2zM108 211h1v2h-1zM113 211h1v2h-1zM339 211h1v3h-1zM377 211h3v1h-3zM383 211h1v1h-1zM502 211h1v3h-1zM677 211h1v1h-1zM694 211h1v1h-1zM380 212h3v1h-3zM676 212h1v2h-1zM695 212h1v1h-1zM704 212h3v1h-3zM109 213h1v2h-1zM112 213h1v2h-1zM696 213h1v1h-1zM702 213h2v1h-2zM707 213h1v2h-1zM338 214h1v2h-1zM403 214h1v4h-1zM501 214h1v2h-1zM526 214h1v5h-1zM675 214h1v2h-1zM697 214h5v1h-5zM110 215h2v1h-2zM146 215h1v6h-1zM708 215h1v1h-1zM111 216h1v1h-1zM337 216h1v1h-1zM500 216h1v3h-1zM674 216h1v2h-1zM709 216h1v2h-1zM336 217h1v2h-1zM404 218h1v4h-1zM673 218h1v3h-1zM710 218h1v4h-1zM335 219h1v1h-1zM499 219h1v4h-1zM527 219h1v4h-1zM334 220h1v1h-1zM147 221h1v7h-1zM333 221h1v2h-1zM672 221h1v4h-1zM405 222h1v4h-1zM462 222h1v1h-1zM711 222h1v3h-1zM332 223h1v2h-1zM461 223h1v1h-1zM463 223h1v1h-1zM472 223h4v1h-4zM498 223h1v2h-1zM528 223h1v4h-1zM459 224h2v1h-2zM464 224h1v1h-1zM468 224h4v1h-4zM476 224h2v1h-2zM331 225h1v2h-1zM458 225h1v1h-1zM465 225h3v1h-3zM478 225h1v1h-1zM497 225h1v2h-1zM671 225h1v3h-1zM712 225h1v2h-1zM406 226h1v5h-1zM457 226h1v1h-1zM479 226h1v1h-1zM330 227h1v3h-1zM447 227h2v1h-2zM455 227h2v1h-2zM480 227h1v1h-1zM496 227h1v1h-1zM529 227h1v3h-1zM713 227h1v2h-1zM148 228h1v7h-1zM446 228h1v1h-1zM449 228h6v1h-6zM481 228h2v1h-2zM495 228h1v2h-1zM670 228h1v2h-1zM445 229h1v2h-1zM483 229h2v1h-2zM714 229h2v1h-2zM329 230h1v4h-1zM485 230h1v1h-1zM494 230h1v2h-1zM530 230h1v3h-1zM669 230h1v2h-1zM716 230h1v1h-1zM407 231h1v6h-1zM444 231h1v1h-1zM486 231h1v1h-1zM717 231h2v1h-2zM924 231h1v2h-1zM443 232h1v1h-1zM487 232h1v1h-1zM493 232h1v2h-1zM668 232h1v2h-1zM719 232h1v1h-1zM442 233h1v2h-1zM488 233h1v1h-1zM531 233h1v3h-1zM720 233h1v2h-1zM923 233h1v2h-1zM312 234h3v1h-3zM328 234h1v3h-1zM489 234h1v2h-1zM492 234h1v2h-1zM667 234h1v2h-1zM149 235h1v6h-1zM310 235h2v1h-2zM315 235h2v1h-2zM441 235h1v2h-1zM721 235h1v2h-1zM922 235h1v2h-1zM308 236h2v1h-2zM317 236h1v2h-1zM490 236h2v1h-2zM532 236h1v3h-1zM666 236h1v1h-1zM306 237h2v1h-2zM327 237h1v3h-1zM408 237h1v5h-1zM440 237h1v2h-1zM491 237h1v1h-1zM665 237h1v2h-1zM722 237h1v2h-1zM921 237h1v3h-1zM304 238h2v1h-2zM318 238h1v2h-1zM303 239h1v1h-1zM439 239h1v3h-1zM533 239h1v2h-1zM664 239h1v1h-1zM723 239h1v2h-1zM302 240h1v2h-1zM319 240h1v5h-1zM326 240h1v2h-1zM663 240h1v1h-1zM920 240h1v2h-1zM150 241h1v6h-1zM534 241h1v3h-1zM662 241h1v2h-1zM724 241h1v2h-1zM301 242h1v3h-1zM325 242h1v2h-1zM409 242h1v4h-1zM438 242h1v2h-1zM734 242h1v1h-1zM919 242h1v2h-1zM661 243h1v1h-1zM725 243h1v1h-1zM733 243h2v1h-2zM324 244h1v2h-1zM437 244h1v3h-1zM535 244h1v4h-1zM649 244h3v1h-3zM660 244h1v1h-1zM726 244h1v1h-1zM732 244h1v1h-1zM735 244h1v2h-1zM918 244h1v2h-1zM300 245h1v3h-1zM320 245h1v2h-1zM641 245h8v1h-8zM652 245h2v1h-2zM659 245h1v2h-1zM727 245h1v1h-1zM730 245h2v1h-2zM322 246h2v1h-2zM410 246h1v4h-1zM640 246h1v2h-1zM654 246h3v1h-3zM728 246h2v1h-2zM736 246h1v2h-1zM917 246h1v3h-1zM151 247h1v5h-1zM320 247h2v1h-2zM436 247h1v3h-1zM657 247h2v1h-2zM299 248h1v4h-1zM536 248h1v4h-1zM639 248h1v1h-1zM737 248h1v1h-1zM638 249h1v2h-1zM738 249h1v2h-1zM916 249h1v2h-1zM411 250h1v4h-1zM435 250h1v3h-1zM637 251h1v1h-1zM739 251h1v2h-1zM915 251h1v2h-1zM152 252h1v5h-1zM298 252h1v6h-1zM537 252h1v4h-1zM636 252h1v2h-1zM434 253h1v3h-1zM740 253h1v2h-1zM914 253h1v3h-1zM412 254h1v6h-1zM635 254h1v2h-1zM741 255h1v1h-1zM433 256h1v3h-1zM538 256h1v4h-1zM634 256h1v2h-1zM742 256h1v1h-1zM913 256h1v3h-1zM153 257h1v4h-1zM743 257h1v2h-1zM297 258h1v4h-1zM633 258h1v2h-1zM432 259h1v4h-1zM744 259h1v1h-1zM912 259h1v3h-1zM413 260h1v6h-1zM539 260h1v2h-1zM632 260h1v2h-1zM745 260h1v1h-1zM154 261h1v4h-1zM746 261h1v2h-1zM296 262h1v3h-1zM540 262h1v1h-1zM631 262h1v1h-1zM911 262h1v2h-1zM431 263h1v4h-1zM541 263h1v2h-1zM630 263h1v2h-1zM747 263h1v4h-1zM910 264h1v3h-1zM155 265h1v4h-1zM295 265h1v4h-1zM542 265h1v1h-1zM629 265h1v2h-1zM414 266h1v4h-1zM543 266h1v1h-1zM430 267h1v3h-1zM544 267h1v2h-1zM628 267h1v2h-1zM748 267h1v3h-1zM909 267h1v3h-1zM156 269h1v3h-1zM294 269h1v1h-1zM545 269h1v1h-1zM627 269h1v2h-1zM291 270h3v1h-3zM415 270h1v3h-1zM429 270h1v4h-1zM546 270h1v2h-1zM749 270h1v2h-1zM908 270h1v2h-1zM290 271h1v2h-1zM626 271h1v2h-1zM157 272h1v3h-1zM547 272h1v2h-1zM750 272h1v2h-1zM907 272h1v2h-1zM289 273h1v2h-1zM416 273h1v3h-1zM625 273h1v2h-1zM428 274h1v3h-1zM548 274h1v2h-1zM751 274h1v2h-1zM906 274h1v2h-1zM158 275h1v3h-1zM288 275h1v2h-1zM624 275h1v2h-1zM417 276h1v3h-1zM549 276h1v3h-1zM752 276h1v2h-1zM905 276h1v3h-1zM287 277h1v1h-1zM427 277h1v2h-1zM623 277h1v2h-1zM159 278h1v4h-1zM286 278h1v1h-1zM753 278h1v1h-1zM285 279h1v2h-1zM418 279h1v3h-1zM426 279h1v2h-1zM550 279h1v3h-1zM622 279h1v2h-1zM754 279h1v2h-1zM904 279h1v2h-1zM284 281h1v2h-1zM425 281h1v2h-1zM621 281h1v2h-1zM755 281h1v2h-1zM903 281h1v2h-1zM160 282h1v3h-1zM419 282h1v1h-1zM551 282h1v2h-1zM283 283h1v1h-1zM419 283h2v1h-2zM423 283h2v1h-2zM620 283h1v2h-1zM756 283h1v2h-1zM902 283h1v2h-1zM281 284h2v1h-2zM421 284h2v1h-2zM552 284h1v3h-1zM161 285h1v3h-1zM278 285h3v1h-3zM619 285h1v2h-1zM757 285h1v2h-1zM901 285h1v2h-1zM275 286h3v1h-3zM273 287h2v1h-2zM553 287h1v2h-1zM618 287h1v2h-1zM758 287h1v3h-1zM900 287h1v2h-1zM162 288h1v3h-1zM272 288h1v1h-1zM780 288h5v1h-5zM271 289h1v1h-1zM554 289h1v3h-1zM617 289h1v2h-1zM779 289h1v1h-1zM784 289h1v1h-1zM899 289h1v1h-1zM270 290h1v1h-1zM759 290h1v2h-1zM778 290h1v1h-1zM785 290h1v2h-1zM898 290h1v2h-1zM163 291h1v4h-1zM267 291h3v1h-3zM615 291h2v1h-2zM777 291h1v1h-1zM265 292h2v1h-2zM555 292h1v2h-1zM614 292h1v1h-1zM760 292h1v3h-1zM776 292h1v1h-1zM786 292h1v3h-1zM897 292h1v1h-1zM264 293h1v2h-1zM613 293h1v1h-1zM775 293h1v2h-1zM896 293h1v2h-1zM556 294h1v3h-1zM612 294h1v1h-1zM164 295h1v3h-1zM263 295h1v2h-1zM606 295h3v1h-3zM611 295h1v1h-1zM761 295h1v2h-1zM773 295h2v1h-2zM787 295h1v2h-1zM895 295h1v2h-1zM605 296h1v2h-1zM609 296h2v1h-2zM770 296h3v1h-3zM262 297h1v4h-1zM557 297h1v4h-1zM762 297h3v1h-3zM768 297h2v1h-2zM788 297h1v2h-1zM894 297h1v4h-1zM165 298h1v4h-1zM604 298h1v2h-1zM765 298h3v1h-3zM789 299h1v2h-1zM603 300h1v2h-1zM261 301h1v3h-1zM558 301h1v4h-1zM790 301h1v3h-1zM893 301h1v3h-1zM166 302h1v4h-1zM602 302h1v2h-1zM260 304h1v4h-1zM601 304h1v2h-1zM791 304h1v3h-1zM892 304h1v4h-1zM559 305h1v3h-1zM167 306h1v4h-1zM600 306h1v2h-1zM792 307h1v3h-1zM259 308h1v4h-1zM560 308h1v3h-1zM599 308h1v2h-1zM891 308h1v3h-1zM168 310h1v4h-1zM598 310h1v2h-1zM793 310h1v2h-1zM561 311h1v2h-1zM890 311h1v2h-1zM258 312h1v4h-1zM597 312h1v2h-1zM794 312h1v3h-1zM562 313h1v3h-1zM889 313h1v2h-1zM169 314h1v3h-1zM596 314h1v3h-1zM795 315h1v4h-1zM888 315h1v2h-1zM257 316h1v2h-1zM563 316h1v2h-1zM170 317h1v2h-1zM595 317h1v2h-1zM887 317h1v3h-1zM256 318h1v2h-1zM564 318h1v2h-1zM171 319h1v2h-1zM594 319h1v2h-1zM796 319h1v3h-1zM255 320h1v1h-1zM565 320h1v2h-1zM886 320h1v2h-1zM172 321h1v1h-1zM254 321h1v1h-1zM593 321h1v3h-1zM172 322h7v1h-7zM253 322h1v1h-1zM566 322h1v2h-1zM797 322h1v2h-1zM885 322h1v2h-1zM179 323h1v2h-1zM252 323h1v1h-1zM251 324h1v1h-1zM567 324h1v2h-1zM592 324h1v2h-1zM798 324h1v2h-1zM884 324h1v2h-1zM180 325h1v1h-1zM206 325h1v1h-1zM250 325h1v2h-1zM181 326h1v2h-1zM205 326h1v1h-1zM207 326h2v1h-2zM568 326h1v2h-1zM591 326h1v3h-1zM799 326h1v6h-1zM883 326h1v3h-1zM204 327h1v1h-1zM209 327h1v1h-1zM249 327h1v3h-1zM182 328h1v1h-1zM203 328h1v1h-1zM210 328h1v1h-1zM569 328h1v2h-1zM183 329h1v1h-1zM189 329h1v1h-1zM202 329h1v2h-1zM211 329h1v1h-1zM590 329h1v3h-1zM882 329h1v3h-1zM184 330h1v1h-1zM188 330h1v1h-1zM190 330h2v1h-2zM212 330h1v1h-1zM248 330h1v3h-1zM570 330h1v1h-1zM185 331h1v1h-1zM187 331h1v1h-1zM192 331h1v1h-1zM201 331h1v1h-1zM213 331h1v1h-1zM571 331h1v1h-1zM186 332h1v1h-1zM193 332h1v2h-1zM200 332h1v2h-1zM214 332h1v2h-1zM572 332h1v2h-1zM589 332h1v4h-1zM800 332h1v7h-1zM881 332h1v3h-1zM247 333h1v3h-1zM194 334h1v1h-1zM198 334h2v1h-2zM215 334h1v2h-1zM573 334h1v1h-1zM195 335h3v1h-3zM574 335h1v1h-1zM880 335h1v2h-1zM216 336h1v2h-1zM246 336h1v3h-1zM575 336h1v1h-1zM588 336h1v2h-1zM576 337h1v2h-1zM879 337h1v2h-1zM217 338h1v2h-1zM587 338h1v2h-1zM245 339h1v2h-1zM577 339h1v1h-1zM801 339h1v5h-1zM878 339h1v3h-1zM218 340h1v2h-1zM578 340h2v1h-2zM586 340h1v2h-1zM244 341h1v2h-1zM580 341h3v1h-3zM219 342h1v3h-1zM583 342h3v1h-3zM877 342h1v4h-1zM243 343h1v2h-1zM585 343h1v1h-1zM802 344h1v6h-1zM220 345h1v2h-1zM242 345h1v2h-1zM876 346h1v2h-1zM221 347h1v2h-1zM241 347h1v1h-1zM240 348h1v1h-1zM849 348h3v1h-3zM875 348h1v2h-1zM222 349h1v2h-1zM239 349h1v1h-1zM847 349h2v1h-2zM852 349h2v1h-2zM238 350h1v1h-1zM803 350h1v5h-1zM846 350h1v1h-1zM854 350h1v1h-1zM874 350h1v2h-1zM223 351h1v2h-1zM237 351h1v1h-1zM845 351h1v2h-1zM855 351h1v1h-1zM236 352h1v2h-1zM856 352h1v1h-1zM860 352h14v1h-14zM224 353h1v2h-1zM844 353h1v1h-1zM857 353h3v1h-3zM235 354h1v2h-1zM843 354h1v1h-1zM225 355h1v2h-1zM804 355h1v2h-1zM842 355h1v2h-1zM234 356h1v1h-1zM226 357h1v2h-1zM233 357h1v1h-1zM805 357h1v3h-1zM841 357h1v2h-1zM232 358h1v1h-1zM227 359h2v1h-2zM231 359h1v1h-1zM840 359h1v2h-1zM229 360h2v1h-2zM806 360h1v4h-1zM839 361h1v2h-1zM838 363h1v2h-1zM807 364h1v4h-1zM837 365h1v2h-1zM836 367h1v2h-1zM808 368h1v4h-1zM835 369h1v2h-1zM834 371h1v3h-1zM809 372h1v4h-1zM833 374h1v2h-1zM810 376h1v4h-1zM832 376h1v2h-1zM831 378h1v4h-1zM811 380h1v2h-1zM812 382h1v2h-1zM830 382h1v4h-1zM813 384h1v2h-1zM814 386h1v3h-1zM829 386h1v3h-1zM815 389h1v3h-1zM828 389h1v1h-1zM827 390h1v2h-1zM816 392h1v2h-1zM825 392h2v1h-2zM823 393h2v1h-2zM817 394h1v2h-1zM822 394h1v1h-1zM821 395h1v1h-1zM818 396h1v1h-1zM820 396h1v1h-1zM819 397h1v1h-1z" fill="#0000d2"/>
<rect x="6" y="131" width="1162" height="2" fill="#ff0000"/>
<rect x="6" y="222" width="1162" height="2" fill="#ff0000"/>
<rect x="6" y="300" width="1162" height="2" fill="#00ff00"/>
<rect x="6" y="375" width="1162" height="2" fill="#0000ff"/>
<g clip-path="url(#cmain)">
<rect x="6" y="100" width="1" height="30" fill="#ff0000"/>
<rect x="5" y="106" width="3" height="24" fill="#ff0000"/>
<rect x="6" y="107" width="1" height="22" fill="#ff4500"/>
<rect x="14" y="100" width="1" height="28" fill="#32cd32"/>
<rect x="13" y="100" width="3" height="26" fill="#32cd32"/>
<rect x="18" y="116" width="1" height="30" fill="#ff0000"/>
<rect x="17" y="126" width="3" height="1" fill="#ff0000"/>
<rect x="22" y="100" width="1" height="28" fill="#ff0000"/>
<rect x="21" y="100" width="3" height="26" fill="#ff0000"/>
<rect x="22" y="101" width="1" height="24" fill="#ff4500"/>
<rect x="26" y="100" width="1" height="26" fill="#32cd32"/>
<rect x="25" y="100" width="3" height="20" fill="#32cd32"/>
<rect x="30" y="100" width="1" height="37" fill="#32cd32"/>
<rect x="29" y="100" width="3" height="27" fill="#32cd32"/>
<rect x="34" y="122" width="1" height="26" fill="#32cd32"/>
<rect x="33" y="126" width="3" height="4" fill="#32cd32"/>
<rect x="38" y="130" width="1" height="42" fill="#32cd32"/>
<rect x="37" y="130" width="3" height="7" fill="#32cd32"/>
<rect x="42" y="100" width="1" height="38" fill="#ff0000"/>
<rect x="41" y="100" width="3" height="36" fill="#ff0000"/>
<rect x="42" y="101" width="1" height="34" fill="#ff4500"/>
<rect x="46" y="100" width="1" height="23" fill="#32cd32"/>
<rect x="45" y="113" width="3" height="1" fill="#32cd32"/>
<rect x="50" y="100" width="1" height="29" fill="#32cd32"/>
<rect x="49" y="100" width="3" height="22" fill="#32cd32"/>
<rect x="54" y="114" width="1" height="16" fill="#ff0000"/>
<rect x="53" y="122" width="3" height="3" fill="#ff0000"/>
<rect x="54" y="123" width="1" height="1" fill="#ff4500"/>
<rect x="58" y="100" width="1" height="27" fill="#ff0000"/>
<rect x="57" y="100" width="3" height="23" fill="#ff0000"/>
<rect x="58" y="101" width="1" height="21" fill="#ff4500"/>
<rect x="82" y="100" width="1" height="38" fill="#32cd32"/>
<rect x="81" y="100" width="3" height="36" fill="#32cd32"/>
<rect x="86" y="132" width="1" height="37" fill="#32cd32"/>
<rect x="85" y="135" width="3" height="6" fill="#32cd32"/>
<rect x="90" y="128" width="1" height="41" fill="#32cd32"/>
<rect x="89" y="140" width="3" height="22" fill="#32cd32"/>
<rect x="94" y="158" width="1" height="70" fill="#32cd32"/>
<rect x="93" y="161" width="3" height="53" fill="#32cd32"/>
<rect x="98" y="210" width="1" height="19" fill="#32cd32"/>
<rect x="97" y="214" width="3" height="9" fill="#32cd32"/>
<rect x="102" y="217" width="1" height="19" fill="#32cd32"/>
<rect x="101" y="223" width="3" height="8" fill="#32cd32"/>
<rect x="106" y="208" width="1" height="28" fill="#ff0000"/>
<rect x="105" y="210" width="3" height="20" fill="#ff0000"/>
<rect x="106" y="211" width="1" height="18" fill="#ff4500"/>
<rect x="110" y="200" width="1" height="22" fill="#ff0000"/>
<rect x="109" y="207" width="3" height="4" fill="#ff0000"/>
<rect x="110" y="208" width="1" height="2" fill="#ff4500"/>
<rect x="114" y="179" width="1" height="33" fill="#ff0000"/>
<rect x="113" y="188" width="3" height="20" fill="#ff0000"/>
<rect x="114" y="189" width="1" height="18" fill="#ff4500"/>
<rect x="118" y="153" width="1" height="43" fill="#ff0000"/>
<rect x="117" y="156" width="3" height="32" fill="#ff0000"/>
<rect x="118" y="157" width="1" height="30" fill="#ff4500"/>
<rect x="122" y="133" width="1" height="25" fill="#ff0000"/>
<rect x="121" y="135" width="3" height="22" fill="#ff0000"/>
<rect x="122" y="136" width="1" height="20" fill="#ff4500"/>
<rect x="126" y="134" width="1" height="17" fill="#32cd32"/>
<rect x="125" y="140" width="3" height="8" fill="#32cd32"/>
<rect x="130" y="126" width="1" height="28" fill="#32cd32"/>
<rect x="129" y="147" width="3" height="2" fill="#32cd32"/>
<rect x="134" y="148" width="1" height="36" fill="#32cd32"/>
<rect x="133" y="148" width="3" height="21" fill="#32cd32"/>
<rect x="138" y="167" width="1" height="129" fill="#32cd32"/>
<rect x="137" y="168" width="3" height="93" fill="#32cd32"/>
<rect x="142" y="249" width="1" height="40" fill="#ff0000"/>
<rect x="141" y="254" width="3" height="7" fill="#ff0000"/>
<rect x="142" y="255" width="1" height="5" fill="#ff4500"/>
<rect x="146" y="248" width="1" height="14" fill="#32cd32"/>
<rect x="145" y="254" width="3" height="7" fill="#32cd32"/>
<rect x="150" y="257" width="1" height="23" fill="#32cd32"/>
<rect x="149" y="260" width="3" height="8" fill="#32cd32"/>
<rect x="154" y="264" width="1" height="31" fill="#32cd32"/>
<rect x="153" y="267" width="3" height="21" fill="#32cd32"/>
<rect x="158" y="260" width="1" height="60" fill="#32cd32"/>
<rect x="157" y="287" width="3" height="33" fill="#32cd32"/>
<rect x="162" y="303" width="1" height="19" fill="#ff0000"/>
<rect x="161" y="316" width="3" height="5" fill="#ff0000"/>
<rect x="162" y="317" width="1" height="3" fill="#ff4500"/>
<rect x="166" y="315" width="1" height="35" fill="#32cd32"/>
<rect x="165" y="316" width="3" height="15" fill="#32cd32"/>
<rect x="170" y="325" width="1" height="13" fill="#32cd32"/>
<rect x="169" y="330" width="3" height="8" fill="#32cd32"/>
<rect x="174" y="308" width="1" height="28" fill="#ff0000"/>
<rect x="173" y="310" width="3" height="23" fill="#ff0000"/>
<rect x="174" y="311" width="1" height="21" fill="#ff4500"/>
<rect x="178" y="298" width="1" height="23" fill="#32cd32"/>
<rect x="177" y="311" width="3" height="5" fill="#32cd32"/>
<rect x="182" y="313" width="1" height="35" fill="#32cd32"/>
<rect x="181" y="315" width="3" height="29" fill="#32cd32"/>
<rect x="186" y="338" width="1" height="26" fill="#32cd32"/>
<rect x="185" y="344" width="3" height="10" fill="#32cd32"/>
<rect x="190" y="303" width="1" height="56" fill="#ff0000"/>
<rect x="189" y="320" width="3" height="34" fill="#ff0000"/>
<rect x="190" y="321" width="1" height="32" fill="#ff4500"/>
<rect x="194" y="320" width="1" height="18" fill="#32cd32"/>
<rect x="193" y="320" width="3" height="16" fill="#32cd32"/>
<rect x="198" y="326" width="1" height="31" fill="#ff0000"/>
<rect x="197" y="333" width="3" height="7" fill="#ff0000"/>
<rect x="198" y="334" width="1" height="5" fill="#ff4500"/>
<rect x="202" y="301" width="1" height="35" fill="#ff0000"/>
<rect x="201" y="311" width="3" height="22" fill="#ff0000"/>
<rect x="202" y="312" width="1" height="20" fill="#ff4500"/>
<rect x="206" y="299" width="1" height="46" fill="#32cd32"/>
<rect x="205" y="311" width="3" height="15" fill="#32cd32"/>
<rect x="210" y="322" width="1" height="39" fill="#32cd32"/>
<rect x="209" y="325" width="3" height="18" fill="#32cd32"/>
<rect x="214" y="332" width="1" height="44" fill="#32cd32"/>
<rect x="213" y="342" width="3" height="19" fill="#32cd32"/>
<rect x="218" y="360" width="1" height="10" fill="#32cd32"/>
<rect x="217" y="360" width="3" height="7" fill="#32cd32"/>
<rect x="222" y="355" width="1" height="19" fill="#ff0000"/>
<rect x="221" y="363" width="3" height="6" fill="#ff0000"/>
<rect x="222" y="364" width="1" height="4" fill="#ff4500"/>
<rect x="226" y="347" width="1" height="25" fill="#ff0000"/>
<rect x="225" y="359" width="3" height="5" fill="#ff0000"/>
<rect x="226" y="360" width="1" height="3" fill="#ff4500"/>
<rect x="230" y="329" width="1" height="35" fill="#32cd32"/>
<rect x="229" y="358" width="3" height="2" fill="#32cd32"/>
<rect x="234" y="328" width="1" height="37" fill="#ff0000"/>
<rect x="233" y="331" width="3" height="29" fill="#ff0000"/>
<rect x="234" y="332" width="1" height="27" fill="#ff4500"/>
<rect x="238" y="319" width="1" height="58" fill="#32cd32"/>
<rect x="237" y="331" width="3" height="6" fill="#32cd32"/>
<rect x="242" y="335" width="1" height="16" fill="#32cd32"/>
<rect x="241" y="336" width="3" height="13" fill="#32cd32"/>
<rect x="246" y="314" width="1" height="48" fill="#ff0000"/>
<rect x="245" y="316" width="3" height="37" fill="#ff0000"/>
<rect x="246" y="317" width="1" height="35" fill="#ff4500"/>
<rect x="250" y="287" width="1" height="38" fill="#ff0000"/>
<rect x="249" y="302" width="3" height="15" fill="#ff0000"/>
<rect x="250" y="303" width="1" height="13" fill="#ff4500"/>
<rect x="254" y="297" width="1" height="18" fill="#32cd32"/>
<rect x="253" y="301" width="3" height="4" fill="#32cd32"/>
<rect x="258" y="294" width="1" height="22" fill="#ff0000"/>
<rect x="257" y="298" width="3" height="7" fill="#ff0000"/>
<rect x="258" y="299" width="1" height="5" fill="#ff4500"/>
<rect x="262" y="266" width="1" height="34" fill="#ff0000"/>
<rect x="261" y="273" width="3" height="26" fill="#ff0000"/>
<rect x="262" y="274" width="1" height="24" fill="#ff4500"/>
<rect x="266" y="272" width="1" height="12" fill="#32cd32"/>
<rect x="265" y="273" width="3" height="10" fill="#32cd32"/>
<rect x="270" y="276" width="1" height="21" fill="#32cd32"/>
<rect x="269" y="285" width="3" height="11" fill="#32cd32"/>
<rect x="274" y="270" width="1" height="26" fill="#ff0000"/>
<rect x="273" y="284" width="3" height="12" fill="#ff0000"/>
<rect x="274" y="285" width="1" height="10" fill="#ff4500"/>
<rect x="278" y="280" width="1" height="43" fill="#32cd32"/>
<rect x="277" y="284" width="3" height="16" fill="#32cd32"/>
<rect x="282" y="237" width="1" height="70" fill="#ff0000"/>
<rect x="281" y="262" width="3" height="38" fill="#ff0000"/>
<rect x="282" y="263" width="1" height="36" fill="#ff4500"/>
<rect x="286" y="226" width="1" height="51" fill="#ff0000"/>
<rect x="285" y="255" width="3" height="8" fill="#ff0000"/>
<rect x="286" y="256" width="1" height="6" fill="#ff4500"/>
<rect x="290" y="251" width="1" height="15" fill="#32cd32"/>
<rect x="289" y="255" width="3" height="5" fill="#32cd32"/>
<rect x="294" y="237" width="1" height="43" fill="#32cd32"/>
<rect x="293" y="263" width="3" height="6" fill="#32cd32"/>
<rect x="298" y="224" width="1" height="52" fill="#ff0000"/>
<rect x="297" y="234" width="3" height="35" fill="#ff0000"/>
<rect x="298" y="235" width="1" height="33" fill="#ff4500"/>
<rect x="302" y="179" width="1" height="56" fill="#ff0000"/>
<rect x="301" y="187" width="3" height="48" fill="#ff0000"/>
<rect x="302" y="188" width="1" height="46" fill="#ff4500"/>
<rect x="306" y="180" width="1" height="65" fill="#32cd32"/>
<rect x="305" y="187" width="3" height="53" fill="#32cd32"/>
<rect x="310" y="221" width="1" height="42" fill="#32cd32"/>
<rect x="309" y="240" width="3" height="10" fill="#32cd32"/>
<rect x="314" y="247" width="1" height="16" fill="#32cd32"/>
<rect x="313" y="249" width="3" height="13" fill="#32cd32"/>
<rect x="318" y="235" width="1" height="24" fill="#ff0000"/>
<rect x="317" y="246" width="3" height="12" fill="#ff0000"/>
<rect x="318" y="247" width="1" height="10" fill="#ff4500"/>
<rect x="322" y="210" width="1" height="66" fill="#32cd32"/>
<rect x="321" y="246" width="3" height="7" fill="#32cd32"/>
<rect x="326" y="193" width="1" height="67" fill="#ff0000"/>
<rect x="325" y="194" width="3" height="59" fill="#ff0000"/>
<rect x="326" y="195" width="1" height="57" fill="#ff4500"/>
<rect x="330" y="182" width="1" height="32" fill="#ff0000"/>
<rect x="329" y="192" width="3" height="2" fill="#ff0000"/>
<rect x="334" y="184" width="1" height="35" fill="#32cd32"/>
<rect x="333" y="192" width="3" height="26" fill="#32cd32"/>
<rect x="338" y="214" width="1" height="16" fill="#32cd32"/>
<rect x="337" y="217" width="3" height="8" fill="#32cd32"/>
<rect x="342" y="200" width="1" height="35" fill="#ff0000"/>
<rect x="341" y="202" width="3" height="22" fill="#ff0000"/>
<rect x="342" y="203" width="1" height="20" fill="#ff4500"/>
<rect x="346" y="178" width="1" height="26" fill="#ff0000"/>
<rect x="345" y="187" width="3" height="16" fill="#ff0000"/>
<rect x="346" y="188" width="1" height="14" fill="#ff4500"/>
<rect x="350" y="186" width="1" height="48" fill="#32cd32"/>
<rect x="349" y="187" width="3" height="33" fill="#32cd32"/>
<rect x="354" y="196" width="1" height="30" fill="#ff0000"/>
<rect x="353" y="208" width="3" height="12" fill="#ff0000"/>
<rect x="354" y="209" width="1" height="10" fill="#ff4500"/>
<rect x="358" y="182" width="1" height="37" fill="#ff0000"/>
<rect x="357" y="194" width="3" height="14" fill="#ff0000"/>
<rect x="358" y="195" width="1" height="12" fill="#ff4500"/>
<rect x="362" y="189" width="1" height="25" fill="#32cd32"/>
<rect x="361" y="194" width="3" height="15" fill="#32cd32"/>
<rect x="366" y="194" width="1" height="32" fill="#32cd32"/>
<rect x="365" y="195" width="3" height="22" fill="#32cd32"/>
<rect x="370" y="216" width="1" height="35" fill="#32cd32"/>
<rect x="369" y="216" width="3" height="6" fill="#32cd32"/>
<rect x="374" y="195" width="1" height="27" fill="#ff0000"/>
<rect x="373" y="206" width="3" height="16" fill="#ff0000"/>
<rect x="374" y="207" width="1" height="14" fill="#ff4500"/>
<rect x="378" y="194" width="1" height="28" fill="#32cd32"/>
<rect x="377" y="206" width="3" height="1" fill="#32cd32"/>
<rect x="382" y="199" width="1" height="39" fill="#32cd32"/>
<rect x="381" y="206" width="3" height="6" fill="#32cd32"/>
<rect x="386" y="186" width="1" height="28" fill="#ff0000"/>
<rect x="385" y="193" width="3" height="20" fill="#ff0000"/>
<rect x="386" y="194" width="1" height="18" fill="#ff4500"/>
<rect x="390" y="169" width="1" height="30" fill="#ff0000"/>
<rect x="389" y="194" width="3" height="2" fill="#ff0000"/>
<rect x="394" y="156" width="1" height="41" fill="#ff0000"/>
<rect x="393" y="186" width="3" height="9" fill="#ff0000"/>
<rect x="394" y="187" width="1" height="7" fill="#ff4500"/>
<rect x="398" y="179" width="1" height="64" fill="#32cd32"/>
<rect x="397" y="186" width="3" height="52" fill="#32cd32"/>
<rect x="402" y="235" width="1" height="36" fill="#32cd32"/>
<rect x="401" y="237" width="3" height="6" fill="#32cd32"/>
<rect x="406" y="238" width="1" height="52" fill="#32cd32"/>
<rect x="405" y="242" width="3" height="42" fill="#32cd32"/>
<rect x="410" y="278" width="1" height="12" fill="#ff0000"/>
<rect x="409" y="281" width="3" height="3" fill="#ff0000"/>
<rect x="410" y="282" width="1" height="1" fill="#ff4500"/>
<rect x="414" y="279" width="1" height="23" fill="#32cd32"/>
<rect x="413" y="283" width="3" height="18" fill="#32cd32"/>
<rect x="418" y="270" width="1" height="36" fill="#ff0000"/>
<rect x="417" y="300" width="3" height="2" fill="#ff0000"/>
<rect x="422" y="264" width="1" height="42" fill="#ff0000"/>
<rect x="421" y="266" width="3" height="35" fill="#ff0000"/>
<rect x="422" y="267" width="1" height="33" fill="#ff4500"/>
<rect x="426" y="255" width="1" height="25" fill="#ff0000"/>
<rect x="425" y="260" width="3" height="7" fill="#ff0000"/>
<rect x="426" y="261" width="1" height="5" fill="#ff4500"/>
<rect x="430" y="224" width="1" height="50" fill="#ff0000"/>
<rect x="429" y="225" width="3" height="36" fill="#ff0000"/>
<rect x="430" y="226" width="1" height="34" fill="#ff4500"/>
<rect x="434" y="216" width="1" height="14" fill="#ff0000"/>
<rect x="433" y="216" width="3" height="9" fill="#ff0000"/>
<rect x="434" y="217" width="1" height="7" fill="#ff4500"/>
<rect x="438" y="223" width="1" height="35" fill="#ff0000"/>
<rect x="437" y="242" width="3" height="16" fill="#ff0000"/>
<rect x="438" y="243" width="1" height="14" fill="#ff4500"/>
<rect x="442" y="206" width="1" height="40" fill="#ff0000"/>
<rect x="441" y="236" width="3" height="6" fill="#ff0000"/>
<rect x="442" y="237" width="1" height="4" fill="#ff4500"/>
<rect x="446" y="214" width="1" height="31" fill="#ff0000"/>
<rect x="445" y="215" width="3" height="21" fill="#ff0000"/>
<rect x="446" y="216" width="1" height="19" fill="#ff4500"/>
<rect x="450" y="200" width="1" height="36" fill="#32cd32"/>
<rect x="449" y="215" width="3" height="15" fill="#32cd32"/>
<rect x="454" y="205" width="1" height="36" fill="#ff0000"/>
<rect x="453" y="223" width="3" height="7" fill="#ff0000"/>
<rect x="454" y="224" width="1" height="5" fill="#ff4500"/>
<rect x="458" y="219" width="1" height="15" fill="#ff0000"/>
<rect x="457" y="219" width="3" height="5" fill="#ff0000"/>
<rect x="458" y="220" width="1" height="3" fill="#ff4500"/>
<rect x="462" y="203" width="1" height="26" fill="#ff0000"/>
<rect x="461" y="222" width="3" height="1" fill="#ff0000"/>
<rect x="466" y="218" width="1" height="21" fill="#32cd32"/>
<rect x="465" y="222" width="3" height="12" fill="#32cd32"/>
<rect x="470" y="213" width="1" height="33" fill="#ff0000"/>
<rect x="469" y="218" width="3" height="16" fill="#ff0000"/>
<rect x="470" y="219" width="1" height="14" fill="#ff4500"/>
<rect x="474" y="218" width="1" height="28" fill="#32cd32"/>
<rect x="473" y="218" width="3" height="5" fill="#32cd32"/>
<rect x="478" y="219" width="1" height="39" fill="#32cd32"/>
<rect x="477" y="223" width="3" height="12" fill="#32cd32"/>
<rect x="482" y="227" width="1" height="13" fill="#32cd32"/>
<rect x="481" y="235" width="3" height="5" fill="#32cd32"/>
<rect x="486" y="230" width="1" height="22" fill="#ff0000"/>
<rect x="485" y="239" width="3" height="6" fill="#ff0000"/>
<rect x="486" y="240" width="1" height="4" fill="#ff4500"/>
<rect x="490" y="212" width="1" height="36" fill="#32cd32"/>
<rect x="489" y="239" width="3" height="8" fill="#32cd32"/>
<rect x="494" y="197" width="1" height="66" fill="#ff0000"/>
<rect x="493" y="197" width="3" height="48" fill="#ff0000"/>
<rect x="494" y="198" width="1" height="46" fill="#ff4500"/>
<rect x="498" y="177" width="1" height="27" fill="#ff0000"/>
<rect x="497" y="192" width="3" height="6" fill="#ff0000"/>
<rect x="498" y="193" width="1" height="4" fill="#ff4500"/>
<rect x="502" y="179" width="1" height="28" fill="#ff0000"/>
<rect x="501" y="186" width="3" height="6" fill="#ff0000"/>
<rect x="502" y="187" width="1" height="4" fill="#ff4500"/>
<rect x="506" y="186" width="1" height="10" fill="#32cd32"/>
<rect x="505" y="186" width="3" height="5" fill="#32cd32"/>
<rect x="510" y="187" width="1" height="26" fill="#32cd32"/>
<rect x="509" y="199" width="3" height="4" fill="#32cd32"/>
<rect x="514" y="184" width="1" height="30" fill="#ff0000"/>
<rect x="513" y="186" width="3" height="16" fill="#ff0000"/>
<rect x="514" y="187" width="1" height="14" fill="#ff4500"/>
<rect x="518" y="185" width="1" height="24" fill="#32cd32"/>
<rect x="517" y="186" width="3" height="4" fill="#32cd32"/>
<rect x="522" y="178" width="1" height="47" fill="#32cd32"/>
<rect x="521" y="189" width="3" height="31" fill="#32cd32"/>
<rect x="526" y="205" width="1" height="79" fill="#32cd32"/>
<rect x="525" y="220" width="3" height="56" fill="#32cd32"/>
<rect x="530" y="267" width="1" height="12" fill="#ff0000"/>
<rect x="529" y="276" width="3" height="1" fill="#ff0000"/>
<rect x="534" y="245" width="1" height="26" fill="#ff0000"/>
<rect x="533" y="249" width="3" height="21" fill="#ff0000"/>
<rect x="534" y="250" width="1" height="19" fill="#ff4500"/>
<rect x="538" y="242" width="1" height="26" fill="#32cd32"/>
<rect x="537" y="249" width="3" height="17" fill="#32cd32"/>
<rect x="542" y="248" width="1" height="28" fill="#32cd32"/>
<rect x="541" y="265" width="3" height="7" fill="#32cd32"/>
<rect x="546" y="258" width="1" height="50" fill="#32cd32"/>
<rect x="545" y="270" width="3" height="34" fill="#32cd32"/>
<rect x="550" y="298" width="1" height="12" fill="#32cd32"/>
<rect x="549" y="303" width="3" height="3" fill="#32cd32"/>
<rect x="554" y="298" width="1" height="16" fill="#32cd32"/>
<rect x="553" y="304" width="3" height="10" fill="#32cd32"/>
<rect x="558" y="302" width="1" height="25" fill="#32cd32"/>
<rect x="557" y="307" width="3" height="19" fill="#32cd32"/>
<rect x="562" y="312" width="1" height="32" fill="#32cd32"/>
<rect x="561" y="325" width="3" height="10" fill="#32cd32"/>
<rect x="566" y="320" width="1" height="19" fill="#ff0000"/>
<rect x="565" y="332" width="3" height="3" fill="#ff0000"/>
<rect x="566" y="333" width="1" height="1" fill="#ff4500"/>
<rect x="570" y="330" width="1" height="24" fill="#32cd32"/>
<rect x="569" y="333" width="3" height="6" fill="#32cd32"/>
<rect x="574" y="335" width="1" height="17" fill="#32cd32"/>
<rect x="573" y="338" width="3" height="10" fill="#32cd32"/>
<rect x="578" y="342" width="1" height="9" fill="#32cd32"/>
<rect x="577" y="347" width="3" height="2" fill="#32cd32"/>
<rect x="582" y="338" width="1" height="19" fill="#ff0000"/>
<rect x="581" y="347" width="3" height="3" fill="#ff0000"/>
<rect x="582" y="348" width="1" height="1" fill="#ff4500"/>
<rect x="586" y="337" width="1" height="24" fill="#ff0000"/>
<rect x="585" y="338" width="3" height="10" fill="#ff0000"/>
<rect x="586" y="339" width="1" height="8" fill="#ff4500"/>
<rect x="590" y="274" width="1" height="67" fill="#ff0000"/>
<rect x="589" y="278" width="3" height="61" fill="#ff0000"/>
<rect x="590" y="279" width="1" height="59" fill="#ff4500"/>
<rect x="594" y="260" width="1" height="45" fill="#32cd32"/>
<rect x="593" y="277" width="3" height="24" fill="#32cd32"/>
<rect x="598" y="268" width="1" height="34" fill="#ff0000"/>
<rect x="597" y="298" width="3" height="1" fill="#ff0000"/>
<rect x="602" y="292" width="1" height="11" fill="#ff0000"/>
<rect x="601" y="298" width="3" height="1" fill="#ff0000"/>
<rect x="606" y="289" width="1" height="19" fill="#ff0000"/>
<rect x="605" y="302" width="3" height="1" fill="#ff0000"/>
<rect x="610" y="288" width="1" height="29" fill="#ff0000"/>
<rect x="609" y="290" width="3" height="13" fill="#ff0000"/>
<rect x="610" y="291" width="1" height="11" fill="#ff4500"/>
<rect x="614" y="275" width="1" height="29" fill="#ff0000"/>
<rect x="613" y="278" width="3" height="14" fill="#ff0000"/>
<rect x="614" y="279" width="1" height="12" fill="#ff4500"/>
<rect x="618" y="267" width="1" height="22" fill="#32cd32"/>
<rect x="617" y="278" width="3" height="4" fill="#32cd32"/>
<rect x="622" y="243" width="1" height="40" fill="#ff0000"/>
<rect x="621" y="257" width="3" height="24" fill="#ff0000"/>
<rect x="622" y="258" width="1" height="22" fill="#ff4500"/>
<rect x="626" y="248" width="1" height="10" fill="#ff0000"/>
<rect x="625" y="248" width="3" height="9" fill="#ff0000"/>
<rect x="626" y="249" width="1" height="7" fill="#ff4500"/>
<rect x="630" y="245" width="1" height="13" fill="#32cd32"/>
<rect x="629" y="251" width="3" height="6" fill="#32cd32"/>
<rect x="634" y="231" width="1" height="27" fill="#ff0000"/>
<rect x="633" y="247" width="3" height="11" fill="#ff0000"/>
<rect x="634" y="248" width="1" height="9" fill="#ff4500"/>
<rect x="638" y="225" width="1" height="32" fill="#ff0000"/>
<rect x="637" y="240" width="3" height="8" fill="#ff0000"/>
<rect x="638" y="241" width="1" height="6" fill="#ff4500"/>
<rect x="642" y="223" width="1" height="22" fill="#ff0000"/>
<rect x="641" y="233" width="3" height="8" fill="#ff0000"/>
<rect x="642" y="234" width="1" height="6" fill="#ff4500"/>
<rect x="646" y="227" width="1" height="28" fill="#32cd32"/>
<rect x="645" y="231" width="3" height="23" fill="#32cd32"/>
<rect x="650" y="243" width="1" height="13" fill="#ff0000"/>
<rect x="649" y="246" width="3" height="8" fill="#ff0000"/>
<rect x="650" y="247" width="1" height="6" fill="#ff4500"/>
<rect x="654" y="244" width="1" height="17" fill="#32cd32"/>
<rect x="653" y="252" width="3" height="6" fill="#32cd32"/>
<rect x="658" y="248" width="1" height="24" fill="#ff0000"/>
<rect x="657" y="249" width="3" height="9" fill="#ff0000"/>
<rect x="658" y="250" width="1" height="7" fill="#ff4500"/>
<rect x="662" y="197" width="1" height="55" fill="#ff0000"/>
<rect x="661" y="208" width="3" height="41" fill="#ff0000"/>
<rect x="662" y="209" width="1" height="39" fill="#ff4500"/>
<rect x="666" y="189" width="1" height="35" fill="#32cd32"/>
<rect x="665" y="208" width="3" height="12" fill="#32cd32"/>
<rect x="670" y="208" width="1" height="26" fill="#ff0000"/>
<rect x="669" y="213" width="3" height="7" fill="#ff0000"/>
<rect x="670" y="214" width="1" height="5" fill="#ff4500"/>
<rect x="674" y="207" width="1" height="8" fill="#ff0000"/>
<rect x="673" y="209" width="3" height="5" fill="#ff0000"/>
<rect x="674" y="210" width="1" height="3" fill="#ff4500"/>
<rect x="678" y="196" width="1" height="20" fill="#ff0000"/>
<rect x="677" y="198" width="3" height="12" fill="#ff0000"/>
<rect x="678" y="199" width="1" height="10" fill="#ff4500"/>
<rect x="682" y="194" width="1" height="18" fill="#32cd32"/>
<rect x="681" y="198" width="3" height="14" fill="#32cd32"/>
<rect x="686" y="210" width="1" height="20" fill="#32cd32"/>
<rect x="685" y="211" width="3" height="5" fill="#32cd32"/>
<rect x="690" y="206" width="1" height="16" fill="#ff0000"/>
<rect x="689" y="213" width="3" height="3" fill="#ff0000"/>
<rect x="690" y="214" width="1" height="1" fill="#ff4500"/>
<rect x="694" y="197" width="1" height="23" fill="#32cd32"/>
<rect x="693" y="213" width="3" height="5" fill="#32cd32"/>
<rect x="698" y="210" width="1" height="9" fill="#32cd32"/>
<rect x="697" y="217" width="3" height="2" fill="#32cd32"/>
<rect x="702" y="202" width="1" height="19" fill="#ff0000"/>
<rect x="701" y="202" width="3" height="14" fill="#ff0000"/>
<rect x="702" y="203" width="1" height="12" fill="#ff4500"/>
<rect x="706" y="193" width="1" height="23" fill="#32cd32"/>
<rect x="705" y="202" width="3" height="7" fill="#32cd32"/>
<rect x="710" y="202" width="1" height="53" fill="#32cd32"/>
<rect x="709" y="208" width="3" height="39" fill="#32cd32"/>
<rect x="714" y="245" width="1" height="46" fill="#32cd32"/>
<rect x="713" y="246" width="3" height="30" fill="#32cd32"/>
<rect x="718" y="224" width="1" height="60" fill="#ff0000"/>
<rect x="717" y="226" width="3" height="50" fill="#ff0000"/>
<rect x="718" y="227" width="1" height="48" fill="#ff4500"/>
<rect x="722" y="224" width="1" height="10" fill="#32cd32"/>
<rect x="721" y="225" width="3" height="7" fill="#32cd32"/>
<rect x="726" y="227" width="1" height="26" fill="#32cd32"/>
<rect x="725" y="233" width="3" height="17" fill="#32cd32"/>
<rect x="730" y="236" width="1" height="17" fill="#ff0000"/>
<rect x="729" y="246" width="3" height="4" fill="#ff0000"/>
<rect x="730" y="247" width="1" height="2" fill="#ff4500"/>
<rect x="734" y="242" width="1" height="16" fill="#32cd32"/>
<rect x="733" y="246" width="3" height="10" fill="#32cd32"/>
<rect x="738" y="254" width="1" height="35" fill="#32cd32"/>
<rect x="737" y="255" width="3" height="16" fill="#32cd32"/>
<rect x="742" y="264" width="1" height="32" fill="#ff0000"/>
<rect x="741" y="265" width="3" height="7" fill="#ff0000"/>
<rect x="742" y="266" width="1" height="5" fill="#ff4500"/>
<rect x="746" y="264" width="1" height="13" fill="#32cd32"/>
<rect x="745" y="266" width="3" height="10" fill="#32cd32"/>
<rect x="750" y="274" width="1" height="43" fill="#32cd32"/>
<rect x="749" y="279" width="3" height="16" fill="#32cd32"/>
<rect x="754" y="274" width="1" height="28" fill="#ff0000"/>
<rect x="753" y="292" width="3" height="3" fill="#ff0000"/>
<rect x="754" y="293" width="1" height="1" fill="#ff4500"/>
<rect x="758" y="280" width="1" height="38" fill="#32cd32"/>
<rect x="757" y="292" width="3" height="26" fill="#32cd32"/>
<rect x="762" y="302" width="1" height="23" fill="#ff0000"/>
<rect x="761" y="308" width="3" height="10" fill="#ff0000"/>
<rect x="762" y="309" width="1" height="8" fill="#ff4500"/>
<rect x="766" y="277" width="1" height="39" fill="#ff0000"/>
<rect x="765" y="285" width="3" height="24" fill="#ff0000"/>
<rect x="766" y="286" width="1" height="22" fill="#ff4500"/>
<rect x="770" y="282" width="1" height="8" fill="#ff0000"/>
<rect x="769" y="284" width="3" height="2" fill="#ff0000"/>
<rect x="774" y="279" width="1" height="23" fill="#ff0000"/>
<rect x="773" y="282" width="3" height="17" fill="#ff0000"/>
<rect x="774" y="283" width="1" height="15" fill="#ff4500"/>
<rect x="778" y="280" width="1" height="24" fill="#32cd32"/>
<rect x="777" y="282" width="3" height="11" fill="#32cd32"/>
<rect x="782" y="284" width="1" height="11" fill="#ff0000"/>
<rect x="781" y="285" width="3" height="8" fill="#ff0000"/>
<rect x="782" y="286" width="1" height="6" fill="#ff4500"/>
<rect x="786" y="288" width="1" height="32" fill="#32cd32"/>
<rect x="785" y="293" width="3" height="22" fill="#32cd32"/>
<rect x="790" y="305" width="1" height="36" fill="#32cd32"/>
<rect x="789" y="314" width="3" height="20" fill="#32cd32"/>
<rect x="794" y="332" width="1" height="16" fill="#32cd32"/>
<rect x="793" y="333" width="3" height="10" fill="#32cd32"/>
<rect x="798" y="335" width="1" height="18" fill="#32cd32"/>
<rect x="797" y="342" width="3" height="11" fill="#32cd32"/>
<rect x="802" y="346" width="1" height="63" fill="#32cd32"/>
<rect x="801" y="351" width="3" height="53" fill="#32cd32"/>
<rect x="806" y="392" width="1" height="23" fill="#ff0000"/>
<rect x="805" y="394" width="3" height="10" fill="#ff0000"/>
<rect x="806" y="395" width="1" height="8" fill="#ff4500"/>
<rect x="810" y="379" width="1" height="26" fill="#32cd32"/>
<rect x="809" y="394" width="3" height="5" fill="#32cd32"/>
<rect x="814" y="382" width="1" height="28" fill="#ff0000"/>
<rect x="813" y="396" width="3" height="3" fill="#ff0000"/>
<rect x="814" y="397" width="1" height="1" fill="#ff4500"/>
<rect x="818" y="388" width="1" height="12" fill="#ff0000"/>
<rect x="817" y="393" width="3" height="4" fill="#ff0000"/>
<rect x="818" y="394" width="1" height="2" fill="#ff4500"/>
<rect x="822" y="391" width="1" height="17" fill="#32cd32"/>
<rect x="821" y="394" width="3" height="8" fill="#32cd32"/>
<rect x="826" y="367" width="1" height="45" fill="#ff0000"/>
<rect x="825" y="376" width="3" height="26" fill="#ff0000"/>
<rect x="826" y="377" width="1" height="24" fill="#ff4500"/>
<rect x="830" y="361" width="1" height="39" fill="#ff0000"/>
<rect x="829" y="364" width="3" height="13" fill="#ff0000"/>
<rect x="830" y="365" width="1" height="11" fill="#ff4500"/>
<rect x="834" y="322" width="1" height="50" fill="#ff0000"/>
<rect x="833" y="327" width="3" height="38" fill="#ff0000"/>
<rect x="834" y="328" width="1" height="36" fill="#ff4500"/>
<rect x="838" y="326" width="1" height="43" fill="#32cd32"/>
<rect x="837" y="327" width="3" height="29" fill="#32cd32"/>
<rect x="842" y="349" width="1" height="11" fill="#ff0000"/>
<rect x="841" y="350" width="3" height="4" fill="#ff0000"/>
<rect x="842" y="351" width="1" height="2" fill="#ff4500"/>
<rect x="846" y="345" width="1" height="22" fill="#32cd32"/>
<rect x="845" y="352" width="3" height="2" fill="#32cd32"/>
<rect x="850" y="338" width="1" height="21" fill="#ff0000"/>
<rect x="849" y="345" width="3" height="9" fill="#ff0000"/>
<rect x="850" y="346" width="1" height="7" fill="#ff4500"/>
<rect x="854" y="338" width="1" height="21" fill="#32cd32"/>
<rect x="853" y="345" width="3" height="13" fill="#32cd32"/>
<rect x="858" y="351" width="1" height="16" fill="#32cd32"/>
<rect x="857" y="357" width="3" height="2" fill="#32cd32"/>
<rect x="862" y="345" width="1" height="21" fill="#ff0000"/>
<rect x="861" y="350" width="3" height="10" fill="#ff0000"/>
<rect x="862" y="351" width="1" height="8" fill="#ff4500"/>
<rect x="866" y="340" width="1" height="11" fill="#ff0000"/>
<rect x="865" y="347" width="3" height="4" fill="#ff0000"/>
<rect x="866" y="348" width="1" height="2" fill="#ff4500"/>
<rect x="870" y="342" width="1" height="12" fill="#32cd32"/>
<rect x="869" y="349" width="3" height="3" fill="#32cd32"/>
<rect x="874" y="339" width="1" height="20" fill="#ff0000"/>
<rect x="873" y="347" width="3" height="5" fill="#ff0000"/>
<rect x="874" y="348" width="1" height="3" fill="#ff4500"/>
<rect x="878" y="302" width="1" height="62" fill="#ff0000"/>
<rect x="877" y="314" width="3" height="34" fill="#ff0000"/>
<rect x="878" y="315" width="1" height="32" fill="#ff4500"/>
<rect x="882" y="282" width="1" height="43" fill="#ff0000"/>
<rect x="881" y="297" width="3" height="18" fill="#ff0000"/>
<rect x="882" y="298" width="1" height="16" fill="#ff4500"/>
<rect x="886" y="293" width="1" height="23" fill="#32cd32"/>
<rect x="885" y="299" width="3" height="4" fill="#32cd32"/>
<rect x="890" y="294" width="1" height="10" fill="#ff0000"/>
<rect x="889" y="300" width="3" height="3" fill="#ff0000"/>
<rect x="890" y="301" width="1" height="1" fill="#ff4500"/>
<rect x="894" y="265" width="1" height="33" fill="#ff0000"/>
<rect x="893" y="278" width="3" height="20" fill="#ff0000"/>
<rect x="894" y="279" width="1" height="18" fill="#ff4500"/>
<rect x="898" y="262" width="1" height="20" fill="#ff0000"/>
<rect x="897" y="276" width="3" height="3" fill="#ff0000"/>
<rect x="898" y="277" width="1" height="1" fill="#ff4500"/>
<rect x="902" y="261" width="1" height="33" fill="#ff0000"/>
<rect x="901" y="262" width="3" height="14" fill="#ff0000"/>
<rect x="902" y="263" width="1" height="12" fill="#ff4500"/>
<rect x="906" y="250" width="1" height="22" fill="#ff0000"/>
<rect x="905" y="251" width="3" height="11" fill="#ff0000"/>
<rect x="906" y="252" width="1" height="9" fill="#ff4500"/>
<rect x="910" y="239" width="1" height="33" fill="#ff0000"/>
<rect x="909" y="250" width="3" height="1" fill="#ff0000"/>
<rect x="914" y="234" width="1" height="21" fill="#ff0000"/>
<rect x="913" y="246" width="3" height="5" fill="#ff0000"/>
<rect x="914" y="247" width="1" height="3" fill="#ff4500"/>
<rect x="918" y="224" width="1" height="23" fill="#ff0000"/>
<rect x="917" y="227" width="3" height="18" fill="#ff0000"/>
<rect x="918" y="228" width="1" height="16" fill="#ff4500"/>
<rect x="922" y="203" width="1" height="27" fill="#ff0000"/>
<rect x="921" y="218" width="3" height="9" fill="#ff0000"/>
<rect x="922" y="219" width="1" height="7" fill="#ff4500"/>
<rect x="926" y="210" width="1" height="18" fill="#ff0000"/>
<rect x="925" y="211" width="3" height="7" fill="#ff0000"/>
<rect x="926" y="212" width="1" height="5" fill="#ff4500"/>
</g>
<rect x="5" y="129" width="6" height="6" fill="#ff0000"/>
<rect x="7" y="131" width="2" height="2" fill="#ffffff"/>
<rect x="1162" y="129" width="6" height="6" fill="#ff0000"/>
<rect x="1164" y="131" width="2" height="2" fill="#ffffff"/>
<rect x="5" y="220" width="6" height="6" fill="#ff0000"/>
<rect x="7" y="222" width="2" height="2" fill="#ffffff"/>
<rect x="1162" y="220" width="6" height="6" fill="#ff0000"/>
<rect x="1164" y="222" width="2" height="2" fill="#ffffff"/>
<rect x="5" y="373" width="6" height="6" fill="#0000ff"/>
<rect x="7" y="375" width="2" height="2" fill="#ffffff"/>
<rect x="1162" y="373" width="6" height="6" fill="#0000ff"/>
<rect x="1164" y="375" width="2" height="2" fill="#ffffff"/>
<rect x="5" y="444" width="3" height="9" fill="#c0c0c0"/>
<rect x="9" y="444" width="3" height="9" fill="#c0c0c0"/>
<rect x="13" y="445" width="3" height="8" fill="#c0c0c0"/>
<rect x="17" y="446" width="3" height="7" fill="#c0c0c0"/>
<rect x="21" y="446" width="3" height="7" fill="#c0c0c0"/>
<rect x="25" y="447" width="3" height="6" fill="#c0c0c0"/>
<rect x="29" y="448" width="3" height="5" fill="#c0c0c0"/>
<rect x="33" y="449" width="3" height="4" fill="#c0c0c0"/>
<rect x="37" y="450" width="3" height="3" fill="#c0c0c0"/>
<rect x="41" y="449" width="3" height="4" fill="#c0c0c0"/>
<rect x="45" y="449" width="3" height="4" fill="#c0c0c0"/>
<rect x="49" y="449" width="3" height="4" fill="#c0c0c0"/>
<rect x="53" y="450" width="3" height="3" fill="#c0c0c0"/>
<rect x="57" y="449" width="3" height="4" fill="#c0c0c0"/>
<rect x="61" y="446" width="3" height="7" fill="#c0c0c0"/>
<rect x="65" y="445" width="3" height="8" fill="#c0c0c0"/>
<rect x="69" y="444" width="3" height="9" fill="#c0c0c0"/>
<rect x="73" y="443" width="3" height="10" fill="#c0c0c0"/>
<rect x="77" y="444" width="3" height="9" fill="#c0c0c0"/>
<rect x="81" y="447" width="3" height="6" fill="#c0c0c0"/>
<rect x="85" y="450" width="3" height="3" fill="#c0c0c0"/>
<rect x="89" y="453" width="3" height="1" fill="#c0c0c0"/>
<rect x="93" y="453" width="3" height="7" fill="#c0c0c0"/>
<rect x="97" y="453" width="3" height="12" fill="#c0c0c0"/>
<rect x="101" y="453" width="3" height="16" fill="#c0c0c0"/>
<rect x="105" y="453" width="3" height="18" fill="#c0c0c0"/>
<rect x="109" y="453" width="3" height="19" fill="#c0c0c0"/>
<rect x="113" y="453" width="3" height="19" fill="#c0c0c0"/>
<rect x="117" y="453" width="3" height="17" fill="#c0c0c0"/>
<rect x="121" y="453" width="3" height="14" fill="#c0c0c0"/>
<rect x="125" y="453" width="3" height="11" fill="#c0c0c0"/>
<rect x="129" y="453" width="3" height="9" fill="#c0c0c0"/>
<rect x="133" y="453" width="3" height="9" fill="#c0c0c0"/>
<rect x="137" y="453" width="3" height="14" fill="#c0c0c0"/>
<rect x="141" y="453" width="3" height="18" fill="#c0c0c0"/>
<rect x="145" y="453" width="3" height="21" fill="#c0c0c0"/>
<rect x="149" y="453" width="3" height="24" fill="#c0c0c0"/>
<rect x="153" y="453" width="3" height="27" fill="#c0c0c0"/>
<rect x="157" y="453" width="3" height="31" fill="#c0c0c0"/>
<rect x="161" y="453" width="3" height="33" fill="#c0c0c0"/>
<rect x="165" y="453" width="3" height="36" fill="#c0c0c0"/>
<rect x="169" y="453" width="3" height="38" fill="#c0c0c0"/>
<rect x="173" y="453" width="3" height="37" fill="#c0c0c0"/>
<rect x="177" y="453" width="3" height="37" fill="#c0c0c0"/>
<rect x="181" y="453" width="3" height="38" fill="#c0c0c0"/>
<rect x="185" y="453" width="3" height="38" fill="#c0c0c0"/>
<rect x="189" y="453" width="3" height="37" fill="#c0c0c0"/>
<rect x="193" y="453" width="3" height="37" fill="#c0c0c0"/>
<rect x="197" y="453" width="3" height="35" fill="#c0c0c0"/>
<rect x="201" y="453" width="3" height="32" fill="#c0c0c0"/>
<rect x="205" y="453" width="3" height="30" fill="#c0c0c0"/>
<rect x="209" y="453" width="3" height="30" fill="#c0c0c0"/>
<rect x="213" y="453" width="3" height="30" fill="#c0c0c0"/>
<rect x="217" y="453" width="3" height="31" fill="#c0c0c0"/>
<rect x="221" y="453" width="3" height="30" fill="#c0c0c0"/>
<rect x="225" y="453" width="3" height="29" fill="#c0c0c0"/>
<rect x="229" y="453" width="3" height="29" fill="#c0c0c0"/>
<rect x="233" y="453" width="3" height="26" fill="#c0c0c0"/>
<rect x="237" y="453" width="3" height="24" fill="#c0c0c0"/>
<rect x="241" y="453" width="3" height="22" fill="#c0c0c0"/>
<rect x="245" y="453" width="3" height="19" fill="#c0c0c0"/>
<rect x="249" y="453" width="3" height="16" fill="#c0c0c0"/>
<rect x="253" y="453" width="3" height="13" fill="#c0c0c0"/>
<rect x="257" y="453" width="3" height="10" fill="#c0c0c0"/>
<rect x="261" y="453" width="3" height="7" fill="#c0c0c0"/>
<rect x="265" y="453" width="3" height="4" fill="#c0c0c0"/>
<rect x="269" y="453" width="3" height="3" fill="#c0c0c0"/>
<rect x="273" y="453" width="3" height="1" fill="#c0c0c0"/>
<rect x="277" y="453" width="3" height="1" fill="#c0c0c0"/>
<rect x="281" y="451" width="3" height="2" fill="#c0c0c0"/>
<rect x="285" y="448" width="3" height="5" fill="#c0c0c0"/>
<rect x="289" y="447" width="3" height="6" fill="#c0c0c0"/>
<rect x="293" y="446" width="3" height="7" fill="#c0c0c0"/>
<rect x="297" y="444" width="3" height="9" fill="#c0c0c0"/>
<rect x="301" y="439" width="3" height="14" fill="#c0c0c0"/>
<rect x="305" y="439" width="3" height="14" fill="#c0c0c0"/>
<rect x="309" y="439" width="3" height="14" fill="#c0c0c0"/>
<rect x="313" y="440" width="3" height="13" fill="#c0c0c0"/>
<rect x="317" y="441" width="3" height="12" fill="#c0c0c0"/>
<rect x="321" y="441" width="3" height="12" fill="#c0c0c0"/>
<rect x="325" y="439" width="3" height="14" fill="#c0c0c0"/>
<rect x="329" y="436" width="3" height="17" fill="#c0c0c0"/>
<rect x="333" y="436" width="3" height="17" fill="#c0c0c0"/>
<rect x="337" y="437" width="3" height="16" fill="#c0c0c0"/>
<rect x="341" y="436" width="3" height="17" fill="#c0c0c0"/>
<rect x="345" y="435" width="3" height="18" fill="#c0c0c0"/>
<rect x="349" y="436" width="3" height="17" fill="#c0c0c0"/>
<rect x="353" y="437" width="3" height="16" fill="#c0c0c0"/>
<rect x="357" y="436" width="3" height="17" fill="#c0c0c0"/>
<rect x="361" y="436" width="3" height="17" fill="#c0c0c0"/>
<rect x="365" y="438" width="3" height="15" fill="#c0c0c0"/>
<rect x="369" y="440" width="3" height="13" fill="#c0c0c0"/>
<rect x="373" y="440" width="3" height="13" fill="#c0c0c0"/>
<rect x="377" y="441" width="3" height="12" fill="#c0c0c0"/>
<rect x="381" y="442" width="3" height="11" fill="#c0c0c0"/>
<rect x="385" y="441" width="3" height="12" fill="#c0c0c0"/>
<rect x="389" y="441" width="3" height="12" fill="#c0c0c0"/>
<rect x="393" y="441" width="3" height="12" fill="#c0c0c0"/>
<rect x="397" y="444" width="3" height="9" fill="#c0c0c0"/>
<rect x="401" y="446" width="3" height="7" fill="#c0c0c0"/>
<rect x="405" y="451" width="3" height="2" fill="#c0c0c0"/>
<rect x="409" y="453" width="3" height="3" fill="#c0c0c0"/>
<rect x="413" y="453" width="3" height="7" fill="#c0c0c0"/>
<rect x="417" y="453" width="3" height="10" fill="#c0c0c0"/>
<rect x="421" y="453" width="3" height="10" fill="#c0c0c0"/>
<rect x="425" y="453" width="3" height="9" fill="#c0c0c0"/>
<rect x="429" y="453" width="3" height="7" fill="#c0c0c0"/>
<rect x="433" y="453" width="3" height="4" fill="#c0c0c0"/>
<rect x="437" y="453" width="3" height="4" fill="#c0c0c0"/>
<rect x="441" y="453" width="3" height="3" fill="#c0c0c0"/>
<rect x="445" y="453" width="3" height="1" fill="#c0c0c0"/>
<rect x="449" y="453" width="3" height="1" fill="#c0c0c0"/>
<rect x="453" y="452" width="3" height="1" fill="#c0c0c0"/>
<rect x="457" y="451" width="3" height="2" fill="#c0c0c0"/>
<rect x="461" y="451" width="3" height="2" fill="#c0c0c0"/>
<rect x="465" y="451" width="3" height="2" fill="#c0c0c0"/>
<rect x="469" y="450" width="3" height="3" fill="#c0c0c0"/>
<rect x="473" y="450" width="3" height="3" fill="#c0c0c0"/>
<rect x="477" y="452" width="3" height="1" fill="#c0c0c0"/>
<rect x="481" y="452" width="3" height="1" fill="#c0c0c0"/>
<rect x="485" y="452" width="3" height="1" fill="#c0c0c0"/>
<rect x="489" y="453" width="3" height="1" fill="#c0c0c0"/>
<rect x="493" y="452" width="3" height="1" fill="#c0c0c0"/>
<rect x="497" y="449" width="3" height="4" fill="#c0c0c0"/>
<rect x="501" y="447" width="3" height="6" fill="#c0c0c0"/>
<rect x="505" y="446" width="3" height="7" fill="#c0c0c0"/>
<rect x="509" y="446" width="3" height="7" fill="#c0c0c0"/>
<rect x="513" y="445" width="3" height="8" fill="#c0c0c0"/>
<rect x="517" y="444" width="3" height="9" fill="#c0c0c0"/>
<rect x="521" y="446" width="3" height="7" fill="#c0c0c0"/>
<rect x="525" y="450" width="3" height="3" fill="#c0c0c0"/>
<rect x="529" y="453" width="3" height="2" fill="#c0c0c0"/>
<rect x="533" y="453" width="3" height="3" fill="#c0c0c0"/>
<rect x="537" y="453" width="3" height="5" fill="#c0c0c0"/>
<rect x="541" y="453" width="3" height="7" fill="#c0c0c0"/>
<rect x="545" y="453" width="3" height="10" fill="#c0c0c0"/>
<rect x="549" y="453" width="3" height="13" fill="#c0c0c0"/>
<rect x="553" y="453" width="3" height="15" fill="#c0c0c0"/>
<rect x="557" y="453" width="3" height="18" fill="#c0c0c0"/>
<rect x="561" y="453" width="3" height="20" fill="#c0c0c0"/>
<rect x="565" y="453" width="3" height="21" fill="#c0c0c0"/>
<rect x="569" y="453" width="3" height="23" fill="#c0c0c0"/>
<rect x="573" y="453" width="3" height="24" fill="#c0c0c0"/>
<rect x="577" y="453" width="3" height="25" fill="#c0c0c0"/>
<rect x="581" y="453" width="3" height="25" fill="#c0c0c0"/>
<rect x="585" y="453" width="3" height="24" fill="#c0c0c0"/>
<rect x="589" y="453" width="3" height="20" fill="#c0c0c0"/>
<rect x="593" y="453" width="3" height="18" fill="#c0c0c0"/>
<rect x="597" y="453" width="3" height="16" fill="#c0c0c0"/>
<rect x="601" y="453" width="3" height="14" fill="#c0c0c0"/>
<rect x="605" y="453" width="3" height="13" fill="#c0c0c0"/>
<rect x="609" y="453" width="3" height="11" fill="#c0c0c0"/>
<rect x="613" y="453" width="3" height="8" fill="#c0c0c0"/>
<rect x="617" y="453" width="3" height="7" fill="#c0c0c0"/>
<rect x="621" y="453" width="3" height="4" fill="#c0c0c0"/>
<rect x="625" y="453" width="3" height="1" fill="#c0c0c0"/>
<rect x="629" y="451" width="3" height="2" fill="#c0c0c0"/>
<rect x="633" y="449" width="3" height="4" fill="#c0c0c0"/>
<rect x="637" y="448" width="3" height="5" fill="#c0c0c0"/>
<rect x="641" y="446" width="3" height="7" fill="#c0c0c0"/>
<rect x="645" y="446" width="3" height="7" fill="#c0c0c0"/>
<rect x="649" y="445" width="3" height="8" fill="#c0c0c0"/>
<rect x="653" y="446" width="3" height="7" fill="#c0c0c0"/>
<rect x="657" y="445" width="3" height="8" fill="#c0c0c0"/>
<rect x="661" y="443" width="3" height="10" fill="#c0c0c0"/>
<rect x="665" y="442" width="3" height="11" fill="#c0c0c0"/>
<rect x="669" y="441" width="3" height="12" fill="#c0c0c0"/>
<rect x="673" y="440" width="3" height="13" fill="#c0c0c0"/>
<rect x="677" y="439" width="3" height="14" fill="#c0c0c0"/>
<rect x="681" y="438" width="3" height="15" fill="#c0c0c0"/>
<rect x="685" y="439" width="3" height="14" fill="#c0c0c0"/>
<rect x="689" y="439" width="3" height="14" fill="#c0c0c0"/>
<rect x="693" y="440" width="3" height="13" fill="#c0c0c0"/>
<rect x="697" y="440" width="3" height="13" fill="#c0c0c0"/>
<rect x="701" y="440" width="3" height="13" fill="#c0c0c0"/>
<rect x="705" y="440" width="3" height="13" fill="#c0c0c0"/>
<rect x="709" y="443" width="3" height="10" fill="#c0c0c0"/>
<rect x="713" y="447" width="3" height="6" fill="#c0c0c0"/>
<rect x="717" y="447" width="3" height="6" fill="#c0c0c0"/>
<rect x="721" y="448" width="3" height="5" fill="#c0c0c0"/>
<rect x="725" y="450" width="3" height="3" fill="#c0c0c0"/>
<rect x="729" y="451" width="3" height="2" fill="#c0c0c0"/>
<rect x="733" y="452" width="3" height="1" fill="#c0c0c0"/>
<rect x="737" y="453" width="3" height="2" fill="#c0c0c0"/>
<rect x="741" y="453" width="3" height="3" fill="#c0c0c0"/>
<rect x="745" y="453" width="3" height="5" fill="#c0c0c0"/>
<rect x="749" y="453" width="3" height="7" fill="#c0c0c0"/>
<rect x="753" y="453" width="3" height="9" fill="#c0c0c0"/>
<rect x="757" y="453" width="3" height="12" fill="#c0c0c0"/>
<rect x="761" y="453" width="3" height="13" fill="#c0c0c0"/>
<rect x="765" y="453" width="3" height="13" fill="#c0c0c0"/>
<rect x="769" y="453" width="3" height="12" fill="#c0c0c0"/>
<rect x="773" y="453" width="3" height="12" fill="#c0c0c0"/>
<rect x="777" y="453" width="3" height="11" fill="#c0c0c0"/>
<rect x="781" y="453" width="3" height="11" fill="#c0c0c0"/>
<rect x="785" y="453" width="3" height="12" fill="#c0c0c0"/>
<rect x="789" y="453" width="3" height="14" fill="#c0c0c0"/>
<rect x="793" y="453" width="3" height="16" fill="#c0c0c0"/>
<rect x="797" y="453" width="3" height="18" fill="#c0c0c0"/>
<rect x="801" y="453" width="3" height="22" fill="#c0c0c0"/>
<rect x="805" y="453" width="3" height="25" fill="#c0c0c0"/>
<rect x="809" y="453" width="3" height="27" fill="#c0c0c0"/>
<rect x="813" y="453" width="3" height="28" fill="#c0c0c0"/>
<rect x="817" y="453" width="3" height="29" fill="#c0c0c0"/>
<rect x="821" y="453" width="3" height="29" fill="#c0c0c0"/>
<rect x="825" y="453" width="3" height="28" fill="#c0c0c0"/>
<rect x="829" y="453" width="3" height="25" fill="#c0c0c0"/>
<rect x="833" y="453" width="3" height="21" fill="#c0c0c0"/>
<rect x="837" y="453" width="3" height="20" fill="#c0c0c0"/>
<rect x="841" y="453" width="3" height="18" fill="#c0c0c0"/>
<rect x="845" y="453" width="3" height="16" fill="#c0c0c0"/>
<rect x="849" y="453" width="3" height="14" fill="#c0c0c0"/>
<rect x="853" y="453" width="3" height="13" fill="#c0c0c0"/>
<rect x="857" y="453" width="3" height="13" fill="#c0c0c0"/>
<rect x="861" y="453" width="3" height="12" fill="#c0c0c0"/>
<rect x="865" y="453" width="3" height="10" fill="#c0c0c0"/>
<rect x="869" y="453" width="3" height="9" fill="#c0c0c0"/>
<rect x="873" y="453" width="3" height="8" fill="#c0c0c0"/>
<rect x="877" y="453" width="3" height="6" fill="#c0c0c0"/>
<rect x="881" y="453" width="3" height="2" fill="#c0c0c0"/>
<rect x="885" y="452" width="3" height="1" fill="#c0c0c0"/>
<rect x="889" y="450" width="3" height="3" fill="#c0c0c0"/>
<rect x="893" y="447" width="3" height="6" fill="#c0c0c0"/>
<rect x="897" y="445" width="3" height="8" fill="#c0c0c0"/>
<rect x="901" y="442" width="3" height="11" fill="#c0c0c0"/>
<rect x="905" y="440" width="3" height="13" fill="#c0c0c0"/>
<rect x="909" y="438" width="3" height="15" fill="#c0c0c0"/>
<rect x="913" y="437" width="3" height="16" fill="#c0c0c0"/>
<rect x="917" y="434" width="3" height="19" fill="#c0c0c0"/>
<rect x="921" y="432" width="3" height="21" fill="#c0c0c0"/>
<rect x="925" y="431" width="3" height="22" fill="#c0c0c0"/>
<path d="M361 436h8v1h-8zM353 437h8v1h-8zM369 437h10v1h-10zM345 438h8v1h-8zM379 438h4v1h-4zM333 439h12v1h-12zM383 439h8v1h-8zM329 440h4v1h-4zM391 440h8v1h-8zM693 440h22v1h-22zM924 440h2v1h-2zM325 441h4v1h-4zM399 441h4v1h-4zM685 441h8v1h-8zM715 441h4v1h-4zM923 441h1v1h-1zM321 442h4v1h-4zM403 442h4v1h-4zM681 442h4v1h-4zM719 442h4v1h-4zM921 442h2v1h-2zM6 443h14v1h-14zM317 443h4v1h-4zM407 443h2v1h-2zM677 443h4v1h-4zM723 443h4v1h-4zM920 443h1v1h-1zM20 444h7v1h-7zM313 444h4v1h-4zM409 444h2v1h-2zM673 444h4v1h-4zM727 444h3v1h-3zM918 444h2v1h-2zM27 445h6v1h-6zM309 445h4v1h-4zM411 445h1v1h-1zM665 445h8v1h-8zM730 445h2v1h-2zM915 445h3v1h-3zM33 446h4v1h-4zM77 446h14v1h-14zM306 446h3v1h-3zM412 446h2v1h-2zM662 446h3v1h-3zM732 446h3v1h-3zM912 446h3v1h-3zM37 447h14v1h-14zM73 447h4v1h-4zM91 447h4v1h-4zM304 447h2v1h-2zM414 447h2v1h-2zM522 447h13v1h-13zM660 447h2v1h-2zM735 447h4v1h-4zM911 447h1v1h-1zM51 448h6v1h-6zM65 448h8v1h-8zM95 448h3v1h-3zM302 448h2v1h-2zM416 448h2v1h-2zM519 448h3v1h-3zM535 448h4v1h-4zM657 448h3v1h-3zM739 448h3v1h-3zM909 448h2v1h-2zM57 449h8v1h-8zM98 449h2v1h-2zM300 449h2v1h-2zM418 449h2v1h-2zM511 449h8v1h-8zM539 449h3v1h-3zM653 449h4v1h-4zM742 449h2v1h-2zM908 449h1v1h-1zM100 450h1v1h-1zM299 450h1v1h-1zM420 450h2v1h-2zM499 450h12v1h-12zM542 450h2v1h-2zM650 450h3v1h-3zM744 450h3v1h-3zM906 450h2v1h-2zM101 451h2v1h-2zM298 451h1v1h-1zM422 451h2v1h-2zM479 451h20v1h-20zM544 451h2v1h-2zM648 451h2v1h-2zM747 451h2v1h-2zM904 451h2v1h-2zM103 452h1v1h-1zM296 452h2v1h-2zM424 452h2v1h-2zM469 452h10v1h-10zM546 452h2v1h-2zM646 452h2v1h-2zM749 452h1v1h-1zM902 452h2v1h-2zM104 453h1v1h-1zM293 453h3v1h-3zM426 453h2v1h-2zM465 453h4v1h-4zM548 453h2v1h-2zM644 453h2v1h-2zM750 453h3v1h-3zM900 453h2v1h-2zM105 454h2v1h-2zM290 454h3v1h-3zM428 454h2v1h-2zM461 454h4v1h-4zM550 454h2v1h-2zM642 454h2v1h-2zM753 454h4v1h-4zM898 454h2v1h-2zM107 455h1v1h-1zM288 455h2v1h-2zM430 455h2v1h-2zM457 455h4v1h-4zM552 455h1v1h-1zM641 455h1v1h-1zM757 455h2v1h-2zM896 455h2v1h-2zM108 456h1v1h-1zM286 456h2v1h-2zM432 456h2v1h-2zM453 456h4v1h-4zM553 456h2v1h-2zM639 456h2v1h-2zM759 456h2v1h-2zM894 456h2v1h-2zM109 457h2v1h-2zM284 457h2v1h-2zM434 457h2v1h-2zM449 457h4v1h-4zM555 457h1v1h-1zM638 457h1v1h-1zM761 457h1v1h-1zM892 457h2v1h-2zM111 458h1v1h-1zM282 458h2v1h-2zM436 458h13v1h-13zM556 458h2v1h-2zM636 458h2v1h-2zM762 458h3v1h-3zM890 458h2v1h-2zM112 459h2v1h-2zM281 459h1v1h-1zM558 459h2v1h-2zM634 459h2v1h-2zM765 459h4v1h-4zM888 459h2v1h-2zM114 460h2v1h-2zM279 460h2v1h-2zM560 460h2v1h-2zM632 460h2v1h-2zM769 460h4v1h-4zM886 460h2v1h-2zM116 461h1v1h-1zM278 461h1v1h-1zM562 461h2v1h-2zM630 461h2v1h-2zM773 461h4v1h-4zM884 461h2v1h-2zM117 462h2v1h-2zM276 462h2v1h-2zM564 462h1v1h-1zM628 462h2v1h-2zM777 462h4v1h-4zM881 462h3v1h-3zM119 463h1v1h-1zM274 463h2v1h-2zM565 463h2v1h-2zM626 463h2v1h-2zM781 463h4v1h-4zM878 463h3v1h-3zM120 464h2v1h-2zM273 464h1v1h-1zM567 464h1v1h-1zM624 464h2v1h-2zM785 464h10v1h-10zM876 464h2v1h-2zM122 465h2v1h-2zM271 465h2v1h-2zM568 465h2v1h-2zM622 465h2v1h-2zM795 465h7v1h-7zM873 465h3v1h-3zM124 466h2v1h-2zM270 466h1v1h-1zM570 466h2v1h-2zM620 466h2v1h-2zM802 466h2v1h-2zM869 466h4v1h-4zM126 467h27v1h-27zM268 467h2v1h-2zM572 467h2v1h-2zM618 467h2v1h-2zM804 467h3v1h-3zM866 467h3v1h-3zM153 468h3v1h-3zM266 468h2v1h-2zM574 468h2v1h-2zM616 468h2v1h-2zM807 468h3v1h-3zM864 468h2v1h-2zM156 469h2v1h-2zM265 469h1v1h-1zM576 469h2v1h-2zM614 469h2v1h-2zM810 469h2v1h-2zM862 469h2v1h-2zM158 470h1v1h-1zM263 470h2v1h-2zM578 470h2v1h-2zM612 470h2v1h-2zM812 470h2v1h-2zM860 470h2v1h-2zM159 471h2v1h-2zM262 471h1v1h-1zM580 471h3v1h-3zM609 471h3v1h-3zM814 471h2v1h-2zM858 471h2v1h-2zM161 472h1v1h-1zM260 472h2v1h-2zM583 472h3v1h-3zM605 472h4v1h-4zM816 472h2v1h-2zM856 472h2v1h-2zM162 473h1v1h-1zM258 473h2v1h-2zM586 473h2v1h-2zM602 473h3v1h-3zM818 473h2v1h-2zM853 473h3v1h-3zM163 474h2v1h-2zM256 474h2v1h-2zM588 474h14v1h-14zM820 474h2v1h-2zM850 474h3v1h-3zM165 475h1v1h-1zM254 475h2v1h-2zM822 475h2v1h-2zM848 475h2v1h-2zM166 476h1v1h-1zM252 476h2v1h-2zM824 476h3v1h-3zM845 476h3v1h-3zM167 477h2v1h-2zM250 477h2v1h-2zM827 477h4v1h-4zM841 477h4v1h-4zM169 478h1v1h-1zM248 478h2v1h-2zM831 478h10v1h-10zM170 479h3v1h-3zM245 479h3v1h-3zM173 480h3v1h-3zM241 480h4v1h-4zM176 481h2v1h-2zM237 481h4v1h-4zM178 482h2v1h-2zM233 482h4v1h-4zM180 483h2v1h-2zM229 483h4v1h-4zM182 484h1v1h-1zM221 484h8v1h-8zM183 485h2v1h-2zM217 485h4v1h-4zM185 486h1v1h-1zM213 486h4v1h-4zM186 487h3v1h-3zM209 487h4v1h-4zM189 488h4v1h-4zM201 488h8v1h-8zM193 489h8v1h-8z" fill="#ff0000"/>
<rect x="7" y="522" width="3" height="1" fill="#c0c0c0"/>
<rect x="13" y="522" width="3" height="1" fill="#c0c0c0"/>
<rect x="19" y="522" width="3" height="1" fill="#c0c0c0"/>
<rect x="25" y="522" width="3" height="1" fill="#c0c0c0"/>
<rect x="31" y="522" width="3" height="1" fill="#c0c0c0"/>
<rect x="37" y="522" width="3" height="1" fill="#c0c0c0"/>
<rect x="43" y="522" width="3" height="1" fill="#c0c0c0"/>
<rect x="49" y="522" width="3" height="1" fill="#c0c0c0"/>
<rect x="55" y="522" width="3" height="1" fill="#c0c0c0"/>
<rect x="61" y="522" width="3" height="1" fill="#c0c0c0"/>
<rect x="67" y="522" width="3" height="1" fill="#c0c0c0"/>
<rect x="73" y="522" width="3" height="1" fill="#c0c0c0"/>
<rect x="79" y="522" width="3" height="1" fill="#c0c0c0"/>
<rect x="85" y="522" width="3" height="1" fill="#c0c0c0"/>
<rect x="91" y="522" width="3" height="1" fill="#c0c0c0"/>
<rect x="97" y="522" width="3" height="1" fill="#c0c0c0"/>
<rect x="103" y="522" width="3" height="1" fill="#c0c0c0"/>
<rect x="109" y="522" width="3" height="1" fill="#c0c0c0"/>
<rect x="115" y="522" width="3" height="1" fill="#c0c0c0"/>
<rect x="121" y="522" width="3" height="1" fill="#c0c0c0"/>
<rect x="127" y="522" width="3" height="1" fill="#c0c0c0"/>
<rect x="133" y="522" width="3" height="1" fill="#c0c0c0"/>
<rect x="139" y="522" width="3" height="1" fill="#c0c0c0"/>
<rect x="145" y="522" width="3" height="1" fill="#c0c0c0"/>
<rect x="151" y="522" width="3" height="1" fill="#c0c0c0"/>
<rect x="157" y="522" width="3" height="1" fill="#c0c0c0"/>
<rect x="163" y="522" width="3" height="1" fill="#c0c0c0"/>
<rect x="169" y="522" width="3" height="1" fill="#c0c0c0"/>
<rect x="175" y="522" width="3" height="1" fill="#c0c0c0"/>
<rect x="181" y="522" width="3" height="1" fill="#c0c0c0"/>
<rect x="187" y="522" width="3" height="1" fill="#c0c0c0"/>
<rect x="193" y="522" width="3" height="1" fill="#c0c0c0"/>
<rect x="199" y="522" width="3" height="1" fill="#c0c0c0"/>
<rect x="205" y="522" width="3" height="1" fill="#c0c0c0"/>
<rect x="211" y="522" width="3" height="1" fill="#c0c0c0"/>
<rect x="217" y="522" width="3" height="1" fill="#c0c0c0"/>
<rect x="223" y="522" width="3" height="1" fill="#c0c0c0"/>
<rect x="229" y="522" width="3" height="1" fill="#c0c0c0"/>
<rect x="235" y="522" width="3" height="1" fill="#c0c0c0"/>
<rect x="241" y="522" width="3" height="1" fill="#c0c0c0"/>
<rect x="247" y="522" width="3" height="1" fill="#c0c0c0"/>
<rect x="253" y="522" width="3" height="1" fill="#c0c0c0"/>
<rect x="259" y="522" width="3" height="1" fill="#c0c0c0"/>
<rect x="265" y="522" width="3" height="1" fill="#c0c0c0"/>
<rect x="271" y="522" width="3" height="1" fill="#c0c0c0"/>
<rect x="277" y="522" width="3" height="1" fill="#c0c0c0"/>
<rect x="283" y="522" width="3" height="1" fill="#c0c0c0"/>
<rect x="289" y="522" width="3" height="1" fill="#c0c0c0"/>
<rect x="295" y="522" width="3" height="1" fill="#c0c0c0"/>
<rect x="301" y="522" width="3" height="1" fill="#c0c0c0"/>
<rect x="307" y="522" width="3" height="1" fill="#c0c0c0"/>
<rect x="313" y="522" width="3" height="1" fill="#c0c0c0"/>
<rect x="319" y="522" width="3" height="1" fill="#c0c0c0"/>
<rect x="325" y="522" width="3" height="1" fill="#c0c0c0"/>
<rect x="331" y="522" width="3" height="1" fill="#c0c0c0"/>
<rect x="337" y="522" width="3" height="1" fill="#c0c0c0"/>
<rect x="343" y="522" width="3" height="1" fill="#c0c0c0"/>
<rect x="349" y="522" width="3" height="1" fill="#c0c0c0"/>
<rect x="355" y="522" width="3" height="1" fill="#c0c0c0"/>
<rect x="361" y="522" width="3" height="1" fill="#c0c0c0"/>
<rect x="367" y="522" width="3" height="1" fill="#c0c0c0"/>
<rect x="373" y="522" width="3" height="1" fill="#c0c0c0"/>
<rect x="379" y="522" width="3" height="1" fill="#c0c0c0"/>
<rect x="385" y="522" width="3" height="1" fill="#c0c0c0"/>
<rect x="391" y="522" width="3" height="1" fill="#c0c0c0"/>
<rect x="397" y="522" width="3" height="1" fill="#c0c0c0"/>
<rect x="403" y="522" width="3" height="1" fill="#c0c0c0"/>
<rect x="409" y="522" width="3" height="1" fill="#c0c0c0"/>
<rect x="415" y="522" width="3" height="1" fill="#c0c0c0"/>
<rect x="421" y="522" width="3" height="1" fill="#c0c0c0"/>
<rect x="427" y="522" width="3" height="1" fill="#c0c0c0"/>
<rect x="433" y="522" width="3" height="1" fill="#c0c0c0"/>
<rect x="439" y="522" width="3" height="1" fill="#c0c0c0"/>
<rect x="445" y="522" width="3" height="1" fill="#c0c0c0"/>
<rect x="451" y="522" width="3" height="1" fill="#c0c0c0"/>
<rect x="457" y="522" width="3" height="1" fill="#c0c0c0"/>
<rect x="463" y="522" width="3" height="1" fill="#c0c0c0"/>
<rect x="469" y="522" width="3" height="1" fill="#c0c0c0"/>
<rect x="475" y="522" width="3" height="1" fill="#c0c0c0"/>
<rect x="481" y="522" width="3" height="1" fill="#c0c0c0"/>
<rect x="487" y="522" width="3" height="1" fill="#c0c0c0"/>
<rect x="493" y="522" width="3" height="1" fill="#c0c0c0"/>
<rect x="499" y="522" width="3" height="1" fill="#c0c0c0"/>
<rect x="505" y="522" width="3" height="1" fill="#c0c0c0"/>
<rect x="511" y="522" width="3" height="1" fill="#c0c0c0"/>
<rect x="517" y="522" width="3" height="1" fill="#c0c0c0"/>
<rect x="523" y="522" width="3" height="1" fill="#c0c0c0"/>
<rect x="529" y="522" width="3" height="1" fill="#c0c0c0"/>
<rect x="535" y="522" width="3" height="1" fill="#c0c0c0"/>
<rect x="541" y="522" width="3" height="1" fill="#c0c0c0"/>
<rect x="547" y="522" width="3" height="1" fill="#c0c0c0"/>
<rect x="553" y="522" width="3" height="1" fill="#c0c0c0"/>
<rect x="559" y="522" width="3" height="1" fill="#c0c0c0"/>
<rect x="565" y="522" width="3" height="1" fill="#c0c0c0"/>
<rect x="571" y="522" width="3" height="1" fill="#c0c0c0"/>
<rect x="577" y="522" width="3" height="1" fill="#c0c0c0"/>
<rect x="583" y="522" width="3" height="1" fill="#c0c0c0"/>
<rect x="589" y="522" width="3" height="1" fill="#c0c0c0"/>
<rect x="595" y="522" width="3" height="1" fill="#c0c0c0"/>
<rect x="601" y="522" width="3" height="1" fill="#c0c0c0"/>
<rect x="607" y="522" width="3" height="1" fill="#c0c0c0"/>
<rect x="613" y="522" width="3" height="1" fill="#c0c0c0"/>
<rect x="619" y="522" width="3" height="1" fill="#c0c0c0"/>
<rect x="625" y="522" width="3" height="1" fill="#c0c0c0"/>
<rect x="631" y="522" width="3" height="1" fill="#c0c0c0"/>
<rect x="637" y="522" width="3" height="1" fill="#c0c0c0"/>
<rect x="643" y="522" width="3" height="1" fill="#c0c0c0"/>
<rect x="649" y="522" width="3" height="1" fill="#c0c0c0"/>
<rect x="655" y="522" width="3" height="1" fill="#c0c0c0"/>
<rect x="661" y="522" width="3" height="1" fill="#c0c0c0"/>
<rect x="667" y="522" width="3" height="1" fill="#c0c0c0"/>
<rect x="673" y="522" width="3" height="1" fill="#c0c0c0"/>
<rect x="679" y="522" width="3" height="1" fill="#c0c0c0"/>
<rect x="685" y="522" width="3" height="1" fill="#c0c0c0"/>
<rect x="691" y="522" width="3" height="1" fill="#c0c0c0"/>
<rect x="697" y="522" width="3" height="1" fill="#c0c0c0"/>
<rect x="703" y="522" width="3" height="1" fill="#c0c0c0"/>
<rect x="709" y="522" width="3" height="1" fill="#c0c0c0"/>
<rect x="715" y="522" width="3" height="1" fill="#c0c0c0"/>
<rect x="721" y="522" width="3" height="1" fill="#c0c0c0"/>
<rect x="727" y="522" width="3" height="1" fill="#c0c0c0"/>
<rect x="733" y="522" width="3" height="1" fill="#c0c0c0"/>
<rect x="739" y="522" width="3" height="1" fill="#c0c0c0"/>
<rect x="745" y="522" width="3" height="1" fill="#c0c0c0"/>
<rect x="751" y="522" width="3" height="1" fill="#c0c0c0"/>
<rect x="757" y="522" width="3" height="1" fill="#c0c0c0"/>
<rect x="763" y="522" width="3" height="1" fill="#c0c0c0"/>
<rect x="769" y="522" width="3" height="1" fill="#c0c0c0"/>
<rect x="775" y="522" width="3" height="1" fill="#c0c0c0"/>
<rect x="781" y="522" width="3" height="1" fill="#c0c0c0"/>
<rect x="787" y="522" width="3" height="1" fill="#c0c0c0"/>
<rect x="793" y="522" width="3" height="1" fill="#c0c0c0"/>
<rect x="799" y="522" width="3" height="1" fill="#c0c0c0"/>
<rect x="805" y="522" width="3" height="1" fill="#c0c0c0"/>
<rect x="811" y="522" width="3" height="1" fill="#c0c0c0"/>
<rect x="817" y="522" width="3" height="1" fill="#c0c0c0"/>
<rect x="823" y="522" width="3" height="1" fill="#c0c0c0"/>
<rect x="829" y="522" width="3" height="1" fill="#c0c0c0"/>
<rect x="835" y="522" width="3" height="1" fill="#c0c0c0"/>
<rect x="841" y="522" width="3" height="1" fill="#c0c0c0"/>
<rect x="847" y="522" width="3" height="1" fill="#c0c0c0"/>
<rect x="853" y="522" width="3" height="1" fill="#c0c0c0"/>
<rect x="859" y="522" width="3" height="1" fill="#c0c0c0"/>
<rect x="865" y="522" width="3" height="1" fill="#c0c0c0"/>
<rect x="871" y="522" width="3" height="1" fill="#c0c0c0"/>
<rect x="877" y="522" width="3" height="1" fill="#c0c0c0"/>
<rect x="883" y="522" width="3" height="1" fill="#c0c0c0"/>
<rect x="889" y="522" width="3" height="1" fill="#c0c0c0"/>
<rect x="895" y="522" width="3" height="1" fill="#c0c0c0"/>
<rect x="901" y="522" width="3" height="1" fill="#c0c0c0"/>
<rect x="907" y="522" width="3" height="1" fill="#c0c0c0"/>
<rect x="913" y="522" width="3" height="1" fill="#c0c0c0"/>
<rect x="919" y="522" width="3" height="1" fill="#c0c0c0"/>
<rect x="925" y="522" width="3" height="1" fill="#c0c0c0"/>
<rect x="931" y="522" width="3" height="1" fill="#c0c0c0"/>
<rect x="937" y="522" width="3" height="1" fill="#c0c0c0"/>
<rect x="943" y="522" width="3" height="1" fill="#c0c0c0"/>
<rect x="949" y="522" width="3" height="1" fill="#c0c0c0"/>
<rect x="955" y="522" width="3" height="1" fill="#c0c0c0"/>
<rect x="961" y="522" width="3" height="1" fill="#c0c0c0"/>
<rect x="967" y="522" width="3" height="1" fill="#c0c0c0"/>
<rect x="973" y="522" width="3" height="1" fill="#c0c0c0"/>
<rect x="979" y="522" width="3" height="1" fill="#c0c0c0"/>
<rect x="985" y="522" width="3" height="1" fill="#c0c0c0"/>
<rect x="991" y="522" width="3" height="1" fill="#c0c0c0"/>
<rect x="997" y="522" width="3" height="1" fill="#c0c0c0"/>
<rect x="1003" y="522" width="3" height="1" fill="#c0c0c0"/>
<rect x="1009" y="522" width="3" height="1" fill="#c0c0c0"/>
<rect x="1015" y="522" width="3" height="1" fill="#c0c0c0"/>
<rect x="1021" y="522" width="3" height="1" fill="#c0c0c0"/>
<rect x="1027" y="522" width="3" height="1" fill="#c0c0c0"/>
<rect x="1033" y="522" width="3" height="1" fill="#c0c0c0"/>
<rect x="1039" y="522" width="3" height="1" fill="#c0c0c0"/>
<rect x="1045" y="522" width="3" height="1" fill="#c0c0c0"/>
<rect x="1051" y="522" width="3" height="1" fill="#c0c0c0"/>
<rect x="1057" y="522" width="3" height="1" fill="#c0c0c0"/>
<rect x="1063" y="522" width="3" height="1" fill="#c0c0c0"/>
<rect x="1069" y="522" width="3" height="1" fill="#c0c0c0"/>
<rect x="1075" y="522" width="3" height="1" fill="#c0c0c0"/>
<rect x="1081" y="522" width="3" height="1" fill="#c0c0c0"/>
<rect x="1087" y="522" width="3" height="1" fill="#c0c0c0"/>
<rect x="1093" y="522" width="3" height="1" fill="#c0c0c0"/>
<rect x="1099" y="522" width="3" height="1" fill="#c0c0c0"/>
<rect x="1105" y="522" width="3" height="1" fill="#c0c0c0"/>
<rect x="1111" y="522" width="3" height="1" fill="#c0c0c0"/>
<rect x="1117" y="522" width="3" height="1" fill="#c0c0c0"/>
<rect x="1123" y="522" width="3" height="1" fill="#c0c0c0"/>
<rect x="1129" y="522" width="3" height="1" fill="#c0c0c0"/>
<rect x="1135" y="522" width="3" height="1" fill="#c0c0c0"/>
<rect x="1141" y="522" width="3" height="1" fill="#c0c0c0"/>
<rect x="1147" y="522" width="3" height="1" fill="#c0c0c0"/>
<rect x="1153" y="522" width="3" height="1" fill="#c0c0c0"/>
<rect x="1159" y="522" width="3" height="1" fill="#c0c0c0"/>
<rect x="1165" y="522" width="3" height="1" fill="#c0c0c0"/>
<rect x="7" y="555" width="3" height="1" fill="#c0c0c0"/>
<rect x="13" y="555" width="3" height="1" fill="#c0c0c0"/>
<rect x="19" y="555" width="3" height="1" fill="#c0c0c0"/>
<rect x="25" y="555" width="3" height="1" fill="#c0c0c0"/>
<rect x="31" y="555" width="3" height="1" fill="#c0c0c0"/>
<rect x="37" y="555" width="3" height="1" fill="#c0c0c0"/>
<rect x="43" y="555" width="3" height="1" fill="#c0c0c0"/>
<rect x="49" y="555" width="3" height="1" fill="#c0c0c0"/>
<rect x="55" y="555" width="3" height="1" fill="#c0c0c0"/>
<rect x="61" y="555" width="3" height="1" fill="#c0c0c0"/>
<rect x="67" y="555" width="3" height="1" fill="#c0c0c0"/>
<rect x="73" y="555" width="3" height="1" fill="#c0c0c0"/>
<rect x="79" y="555" width="3" height="1" fill="#c0c0c0"/>
<rect x="85" y="555" width="3" height="1" fill="#c0c0c0"/>
<rect x="91" y="555" width="3" height="1" fill="#c0c0c0"/>
<rect x="97" y="555" width="3" height="1" fill="#c0c0c0"/>
<rect x="103" y="555" width="3" height="1" fill="#c0c0c0"/>
<rect x="109" y="555" width="3" height="1" fill="#c0c0c0"/>
<rect x="115" y="555" width="3" height="1" fill="#c0c0c0"/>
<rect x="121" y="555" width="3" height="1" fill="#c0c0c0"/>
<rect x="127" y="555" width="3" height="1" fill="#c0c0c0"/>
<rect x="133" y="555" width="3" height="1" fill="#c0c0c0"/>
<rect x="139" y="555" width="3" height="1" fill="#c0c0c0"/>
<rect x="145" y="555" width="3" height="1" fill="#c0c0c0"/>
<rect x="151" y="555" width="3" height="1" fill="#c0c0c0"/>
<rect x="157" y="555" width="3" height="1" fill="#c0c0c0"/>
<rect x="163" y="555" width="3" height="1" fill="#c0c0c0"/>
<rect x="169" y="555" width="3" height="1" fill="#c0c0c0"/>
<rect x="175" y="555" width="3" height="1" fill="#c0c0c0"/>
<rect x="181" y="555" width="3" height="1" fill="#c0c0c0"/>
<rect x="187" y="555" width="3" height="1" fill="#c0c0c0"/>
<rect x="193" y="555" width="3" height="1" fill="#c0c0c0"/>
<rect x="199" y="555" width="3" height="1" fill="#c0c0c0"/>
<rect x="205" y="555" width="3" height="1" fill="#c0c0c0"/>
<rect x="211" y="555" width="3" height="1" fill="#c0c0c0"/>
<rect x="217" y="555" width="3" height="1" fill="#c0c0c0"/>
<rect x="223" y="555" width="3" height="1" fill="#c0c0c0"/>
<rect x="229" y="555" width="3" height="1" fill="#c0c0c0"/>
<rect x="235" y="555" width="3" height="1" fill="#c0c0c0"/>
<rect x="241" y="555" width="3" height="1" fill="#c0c0c0"/>
<rect x="247" y="555" width="3" height="1" fill="#c0c0c0"/>
<rect x="253" y="555" width="3" height="1" fill="#c0c0c0"/>
<rect x="259" y="555" width="3" height="1" fill="#c0c0c0"/>
<rect x="265" y="555" width="3" height="1" fill="#c0c0c0"/>
<rect x="271" y="555" width="3" height="1" fill="#c0c0c0"/>
<rect x="277" y="555" width="3" height="1" fill="#c0c0c0"/>
<rect x="283" y="555" width="3" height="1" fill="#c0c0c0"/>
<rect x="289" y="555" width="3" height="1" fill="#c0c0c0"/>
<rect x="295" y="555" width="3" height="1" fill="#c0c0c0"/>
<rect x="301" y="555" width="3" height="1" fill="#c0c0c0"/>
<rect x="307" y="555" width="3" height="1" fill="#c0c0c0"/>
<rect x="313" y="555" width="3" height="1" fill="#c0c0c0"/>
<rect x="319" y="555" width="3" height="1" fill="#c0c0c0"/>
<rect x="325" y="555" width="3" height="1" fill="#c0c0c0"/>
<rect x="331" y="555" width="3" height="1" fill="#c0c0c0"/>
<rect x="337" y="555" width="3" height="1" fill="#c0c0c0"/>
<rect x="343" y="555" width="3" height="1" fill="#c0c0c0"/>
<rect x="349" y="555" width="3" height="1" fill="#c0c0c0"/>
<rect x="355" y="555" width="3" height="1" fill="#c0c0c0"/>
<rect x="361" y="555" width="3" height="1" fill="#c0c0c0"/>
<rect x="367" y="555" width="3" height="1" fill="#c0c0c0"/>
<rect x="373" y="555" width="3" height="1" fill="#c0c0c0"/>
<rect x="379" y="555" width="3" height="1" fill="#c0c0c0"/>
<rect x="385" y="555" width="3" height="1" fill="#c0c0c0"/>
<rect x="391" y="555" width="3" height="1" fill="#c0c0c0"/>
<rect x="397" y="555" width="3" height="1" fill="#c0c0c0"/>
<rect x="403" y="555" width="3" height="1" fill="#c0c0c0"/>
<rect x="409" y="555" width="3" height="1" fill="#c0c0c0"/>
<rect x="415" y="555" width="3" height="1" fill="#c0c0c0"/>
<rect x="421" y="555" width="3" height="1" fill="#c0c0c0"/>
<rect x="427" y="555" width="3" height="1" fill="#c0c0c0"/>
<rect x="433" y="555" width="3" height="1" fill="#c0c0c0"/>
<rect x="439" y="555" width="3" height="1" fill="#c0c0c0"/>
<rect x="445" y="555" width="3" height="1" fill="#c0c0c0"/>
<rect x="451" y="555" width="3" height="1" fill="#c0c0c0"/>
<rect x="457" y="555" width="3" height="1" fill="#c0c0c0"/>
<rect x="463" y="555" width="3" height="1" fill="#c0c0c0"/>
<rect x="469" y="555" width="3" height="1" fill="#c0c0c0"/>
<rect x="475" y="555" width="3" height="1" fill="#c0c0c0"/>
<rect x="481" y="555" width="3" height="1" fill="#c0c0c0"/>
<rect x="487" y="555" width="3" height="1" fill="#c0c0c0"/>
<rect x="493" y="555" width="3" height="1" fill="#c0c0c0"/>
<rect x="499" y="555" width="3" height="1" fill="#c0c0c0"/>
<rect x="505" y="555" width="3" height="1" fill="#c0c0c0"/>
<rect x="511" y="555" width="3" height="1" fill="#c0c0c0"/>
<rect x="517" y="555" width="3" height="1" fill="#c0c0c0"/>
<rect x="523" y="555" width="3" height="1" fill="#c0c0c0"/>
<rect x="529" y="555" width="3" height="1" fill="#c0c0c0"/>
<rect x="535" y="555" width="3" height="1" fill="#c0c0c0"/>
<rect x="541" y="555" width="3" height="1" fill="#c0c0c0"/>
<rect x="547" y="555" width="3" height="1" fill="#c0c0c0"/>
<rect x="553" y="555" width="3" height="1" fill="#c0c0c0"/>
<rect x="559" y="555" width="3" height="1" fill="#c0c0c0"/>
<rect x="565" y="555" width="3" height="1" fill="#c0c0c0"/>
<rect x="571" y="555" width="3" height="1" fill="#c0c0c0"/>
<rect x="577" y="555" width="3" height="1" fill="#c0c0c0"/>
<rect x="583" y="555" width="3" height="1" fill="#c0c0c0"/>
<rect x="589" y="555" width="3" height="1" fill="#c0c0c0"/>
<rect x="595" y="555" width="3" height="1" fill="#c0c0c0"/>
<rect x="601" y="555" width="3" height="1" fill="#c0c0c0"/>
<rect x="607" y="555" width="3" height="1" fill="#c0c0c0"/>
<rect x="613" y="555" width="3" height="1" fill="#c0c0c0"/>
<rect x="619" y="555" width="3" height="1" fill="#c0c0c0"/>
<rect x="625" y="555" width="3" height="1" fill="#c0c0c0"/>
<rect x="631" y="555" width="3" height="1" fill="#c0c0c0"/>
<rect x="637" y="555" width="3" height="1" fill="#c0c0c0"/>
<rect x="643" y="555" width="3" height="1" fill="#c0c0c0"/>
<rect x="649" y="555" width="3" height="1" fill="#c0c0c0"/>
<rect x="655" y="555" width="3" height="1" fill="#c0c0c0"/>
<rect x="661" y="555" width="3" height="1" fill="#c0c0c0"/>
<rect x="667" y="555" width="3" height="1" fill="#c0c0c0"/>
<rect x="673" y="555" width="3" height="1" fill="#c0c0c0"/>
<rect x="679" y="555" width="3" height="1" fill="#c0c0c0"/>
<rect x="685" y="555" width="3" height="1" fill="#c0c0c0"/>
<rect x="691" y="555" width="3" height="1" fill="#c0c0c0"/>
<rect x="697" y="555" width="3" height="1" fill="#c0c0c0"/>
<rect x="703" y="555" width="3" height="1" fill="#c0c0c0"/>
<rect x="709" y="555" width="3" height="1" fill="#c0c0c0"/>
<rect x="715" y="555" width="3" height="1" fill="#c0c0c0"/>
<rect x="721" y="555" width="3" height="1" fill="#c0c0c0"/>
<rect x="727" y="555" width="3" height="1" fill="#c0c0c0"/>
<rect x="733" y="555" width="3" height="1" fill="#c0c0c0"/>
<rect x="739" y="555" width="3" height="1" fill="#c0c0c0"/>
<rect x="745" y="555" width="3" height="1" fill="#c0c0c0"/>
<rect x="751" y="555" width="3" height="1" fill="#c0c0c0"/>
<rect x="757" y="555" width="3" height="1" fill="#c0c0c0"/>
<rect x="763" y="555" width="3" height="1" fill="#c0c0c0"/>
<rect x="769" y="555" width="3" height="1" fill="#c0c0c0"/>
<rect x="775" y="555" width="3" height="1" fill="#c0c0c0"/>
<rect x="781" y="555" width="3" height="1" fill="#c0c0c0"/>
<rect x="787" y="555" width="3" height="1" fill="#c0c0c0"/>
<rect x="793" y="555" width="3" height="1" fill="#c0c0c0"/>
<rect x="799" y="555" width="3" height="1" fill="#c0c0c0"/>
<rect x="805" y="555" width="3" height="1" fill="#c0c0c0"/>
<rect x="811" y="555" width="3" height="1" fill="#c0c0c0"/>
<rect x="817" y="555" width="3" height="1" fill="#c0c0c0"/>
<rect x="823" y="555" width="3" height="1" fill="#c0c0c0"/>
<rect x="829" y="555" width="3" height="1" fill="#c0c0c0"/>
<rect x="835" y="555" width="3" height="1" fill="#c0c0c0"/>
<rect x="841" y="555" width="3" height="1" fill="#c0c0c0"/>
<rect x="847" y="555" width="3" height="1" fill="#c0c0c0"/>
<rect x="853" y="555" width="3" height="1" fill="#c0c0c0"/>
<rect x="859" y="555" width="3" height="1" fill="#c0c0c0"/>
<rect x="865" y="555" width="3" height="1" fill="#c0c0c0"/>
<rect x="871" y="555" width="3" height="1" fill="#c0c0c0"/>
<rect x="877" y="555" width="3" height="1" fill="#c0c0c0"/>
<rect x="883" y="555" width="3" height="1" fill="#c0c0c0"/>
<rect x="889" y="555" width="3" height="1" fill="#c0c0c0"/>
<rect x="895" y="555" width="3" height="1" fill="#c0c0c0"/>
<rect x="901" y="555" width="3" height="1" fill="#c0c0c0"/>
<rect x="907" y="555" width="3" height="1" fill="#c0c0c0"/>
<rect x="913" y="555" width="3" height="1" fill="#c0c0c0"/>
<rect x="919" y="555" width="3" height="1" fill="#c0c0c0"/>
<rect x="925" y="555" width="3" height="1" fill="#c0c0c0"/>
<rect x="931" y="555" width="3" height="1" fill="#c0c0c0"/>
<rect x="937" y="555" width="3" height="1" fill="#c0c0c0"/>
<rect x="943" y="555" width="3" height="1" fill="#c0c0c0"/>
<rect x="949" y="555" width="3" height="1" fill="#c0c0c0"/>
<rect x="955" y="555" width="3" height="1" fill="#c0c0c0"/>
<rect x="961" y="555" width="3" height="1" fill="#c0c0c0"/>
<rect x="967" y="555" width="3" height="1" fill="#c0c0c0"/>
<rect x="973" y="555" width="3" height="1" fill="#c0c0c0"/>
<rect x="979" y="555" width="3" height="1" fill="#c0c0c0"/>
<rect x="985" y="555" width="3" height="1" fill="#c0c0c0"/>
<rect x="991" y="555" width="3" height="1" fill="#c0c0c0"/>
<rect x="997" y="555" width="3" height="1" fill="#c0c0c0"/>
<rect x="1003" y="555" width="3" height="1" fill="#c0c0c0"/>
<rect x="1009" y="555" width="3" height="1" fill="#c0c0c0"/>
<rect x="1015" y="555" width="3" height="1" fill="#c0c0c0"/>
<rect x="1021" y="555" width="3" height="1" fill="#c0c0c0"/>
<rect x="1027" y="555" width="3" height="1" fill="#c0c0c0"/>
<rect x="1033" y="555" width="3" height="1" fill="#c0c0c0"/>
<rect x="1039" y="555" width="3" height="1" fill="#c0c0c0"/>
<rect x="1045" y="555" width="3" height="1" fill="#c0c0c0"/>
<rect x="1051" y="555" width="3" height="1" fill="#c0c0c0"/>
<rect x="1057" y="555" width="3" height="1" fill="#c0c0c0"/>
<rect x="1063" y="555" width="3" height="1" fill="#c0c0c0"/>
<rect x="1069" y="555" width="3" height="1" fill="#c0c0c0"/>
<rect x="1075" y="555" width="3" height="1" fill="#c0c0c0"/>
<rect x="1081" y="555" width="3" height="1" fill="#c0c0c0"/>
<rect x="1087" y="555" width="3" height="1" fill="#c0c0c0"/>
<rect x="1093" y="555" width="3" height="1" fill="#c0c0c0"/>
<rect x="1099" y="555" width="3" height="1" fill="#c0c0c0"/>
<rect x="1105" y="555" width="3" height="1" fill="#c0c0c0"/>
<rect x="1111" y="555" width="3" height="1" fill="#c0c0c0"/>
<rect x="1117" y="555" width="3" height="1" fill="#c0c0c0"/>
<rect x="1123" y="555" width="3" height="1" fill="#c0c0c0"/>
<rect x="1129" y="555" width="3" height="1" fill="#c0c0c0"/>
<rect x="1135" y="555" width="3" height="1" fill="#c0c0c0"/>
<rect x="1141" y="555" width="3" height="1" fill="#c0c0c0"/>
<rect x="1147" y="555" width="3" height="1" fill="#c0c0c0"/>
<rect x="1153" y="555" width="3" height="1" fill="#c0c0c0"/>
<rect x="1159" y="555" width="3" height="1" fill="#c0c0c0"/>
<rect x="1165" y="555" width="3" height="1" fill="#c0c0c0"/>
<path d="M925 515h1v1h-1zM921 516h4v1h-4zM918 517h3v1h-3zM917 518h1v1h-1zM915 519h2v1h-2zM913 520h2v1h-2zM906 521h7v1h-7zM904 522h2v1h-2zM302 523h1v1h-1zM902 523h2v1h-2zM301 524h2v1h-2zM900 524h2v1h-2zM299 525h2v1h-2zM303 525h1v2h-1zM662 525h1v1h-1zM678 525h1v1h-1zM897 525h3v1h-3zM298 526h1v1h-1zM661 526h1v2h-1zM663 526h2v1h-2zM676 526h2v1h-2zM679 526h1v1h-1zM894 526h3v1h-3zM297 527h1v2h-1zM304 527h1v3h-1zM326 527h5v1h-5zM641 527h2v1h-2zM665 527h1v1h-1zM669 527h7v1h-7zM680 527h1v1h-1zM893 527h1v1h-1zM62 528h1v1h-1zM325 528h1v2h-1zM331 528h1v1h-1zM346 528h1v1h-1zM638 528h3v1h-3zM643 528h1v2h-1zM660 528h1v2h-1zM666 528h3v1h-3zM681 528h1v1h-1zM702 528h3v1h-3zM892 528h1v1h-1zM61 529h1v2h-1zM63 529h2v1h-2zM296 529h1v2h-1zM332 529h1v2h-1zM344 529h2v1h-2zM347 529h1v2h-1zM501 529h4v1h-4zM626 529h1v1h-1zM636 529h2v1h-2zM682 529h3v1h-3zM701 529h1v1h-1zM705 529h2v1h-2zM882 529h3v1h-3zM891 529h1v1h-1zM65 530h1v1h-1zM69 530h6v1h-6zM285 530h4v1h-4zM305 530h1v2h-1zM324 530h1v2h-1zM342 530h2v1h-2zM394 530h1v1h-1zM497 530h4v1h-4zM505 530h2v1h-2zM514 530h3v1h-3zM624 530h2v1h-2zM627 530h2v1h-2zM634 530h2v1h-2zM644 530h1v1h-1zM659 530h1v2h-1zM685 530h8v1h-8zM699 530h2v1h-2zM706 530h1v1h-1zM881 530h1v1h-1zM885 530h6v1h-6zM60 531h1v1h-1zM66 531h3v1h-3zM75 531h1v2h-1zM262 531h2v1h-2zM282 531h3v1h-3zM289 531h3v1h-3zM295 531h1v2h-1zM333 531h1v1h-1zM341 531h1v1h-1zM348 531h1v1h-1zM358 531h1v1h-1zM386 531h3v1h-3zM392 531h3v1h-3zM494 531h3v1h-3zM507 531h2v1h-2zM513 531h1v1h-1zM517 531h2v1h-2zM622 531h2v1h-2zM629 531h1v1h-1zM632 531h2v1h-2zM645 531h1v2h-1zM693 531h6v1h-6zM707 531h1v2h-1zM880 531h1v1h-1zM59 532h1v2h-1zM261 532h1v1h-1zM264 532h2v1h-2zM281 532h1v2h-1zM292 532h2v1h-2zM306 532h1v1h-1zM323 532h1v2h-1zM334 532h3v1h-3zM339 532h2v1h-2zM349 532h1v2h-1zM356 532h2v1h-2zM359 532h2v1h-2zM385 532h1v1h-1zM389 532h3v1h-3zM395 532h1v3h-1zM494 532h1v1h-1zM509 532h1v1h-1zM511 532h2v1h-2zM518 532h1v1h-1zM621 532h1v1h-1zM630 532h2v1h-2zM649 532h2v1h-2zM658 532h1v2h-1zM879 532h1v1h-1zM22 533h1v1h-1zM76 533h1v2h-1zM260 533h1v2h-1zM266 533h1v1h-1zM294 533h1v1h-1zM306 533h3v1h-3zM337 533h2v1h-2zM353 533h3v1h-3zM361 533h1v1h-1zM384 533h1v1h-1zM493 533h1v2h-1zM510 533h1v1h-1zM519 533h1v2h-1zM620 533h1v2h-1zM646 533h3v1h-3zM651 533h2v1h-2zM708 533h1v3h-1zM878 533h1v1h-1zM6 534h5v1h-5zM21 534h1v1h-1zM23 534h1v1h-1zM42 534h2v1h-2zM58 534h1v1h-1zM267 534h2v1h-2zM274 534h1v1h-1zM280 534h1v2h-1zM309 534h3v1h-3zM318 534h3v1h-3zM322 534h1v1h-1zM350 534h3v1h-3zM362 534h3v1h-3zM374 534h7v1h-7zM383 534h1v1h-1zM433 534h2v1h-2zM446 534h1v1h-1zM653 534h1v1h-1zM656 534h2v1h-2zM877 534h1v2h-1zM11 535h1v1h-1zM20 535h1v2h-1zM24 535h1v1h-1zM41 535h1v2h-1zM44 535h2v1h-2zM57 535h1v1h-1zM77 535h1v2h-1zM259 535h1v1h-1zM269 535h1v1h-1zM272 535h2v1h-2zM275 535h1v1h-1zM312 535h2v1h-2zM316 535h2v1h-2zM321 535h2v1h-2zM365 535h4v1h-4zM372 535h2v1h-2zM381 535h2v1h-2zM396 535h1v2h-1zM430 535h3v1h-3zM435 535h1v1h-1zM445 535h1v1h-1zM447 535h2v1h-2zM457 535h4v1h-4zM470 535h3v1h-3zM492 535h1v3h-1zM520 535h1v2h-1zM614 535h3v1h-3zM619 535h1v1h-1zM654 535h2v1h-2zM12 536h1v1h-1zM25 536h1v1h-1zM46 536h2v1h-2zM56 536h1v1h-1zM122 536h2v1h-2zM257 536h2v1h-2zM270 536h2v1h-2zM276 536h1v1h-1zM279 536h1v2h-1zM314 536h2v1h-2zM369 536h3v1h-3zM429 536h1v2h-1zM436 536h1v1h-1zM444 536h1v1h-1zM449 536h1v1h-1zM453 536h4v1h-4zM461 536h3v1h-3zM469 536h1v1h-1zM473 536h2v1h-2zM590 536h1v1h-1zM613 536h1v1h-1zM617 536h2v1h-2zM709 536h1v2h-1zM718 536h3v1h-3zM876 536h1v2h-1zM13 537h1v1h-1zM19 537h1v1h-1zM26 537h3v1h-3zM40 537h1v1h-1zM48 537h2v1h-2zM55 537h1v1h-1zM78 537h1v1h-1zM121 537h1v1h-1zM124 537h2v1h-2zM250 537h7v1h-7zM277 537h1v1h-1zM397 537h1v3h-1zM437 537h1v1h-1zM443 537h1v1h-1zM450 537h3v1h-3zM464 537h2v1h-2zM467 537h2v1h-2zM475 537h2v1h-2zM521 537h1v2h-1zM590 537h2v1h-2zM612 537h1v1h-1zM718 537h1v1h-1zM721 537h2v1h-2zM14 538h5v1h-5zM29 538h4v1h-4zM39 538h1v2h-1zM50 538h5v1h-5zM79 538h1v2h-1zM119 538h2v1h-2zM126 538h5v1h-5zM248 538h2v1h-2zM278 538h1v1h-1zM428 538h1v2h-1zM438 538h5v1h-5zM466 538h1v1h-1zM477 538h1v1h-1zM491 538h1v2h-1zM590 538h1v1h-1zM592 538h1v2h-1zM611 538h1v1h-1zM710 538h1v3h-1zM717 538h1v3h-1zM723 538h1v1h-1zM834 538h1v1h-1zM875 538h1v2h-1zM33 539h4v1h-4zM118 539h1v1h-1zM131 539h1v1h-1zM246 539h2v1h-2zM478 539h3v1h-3zM522 539h1v2h-1zM589 539h1v4h-1zM610 539h1v1h-1zM724 539h1v1h-1zM833 539h1v2h-1zM835 539h1v1h-1zM37 540h2v1h-2zM80 540h1v1h-1zM117 540h1v2h-1zM132 540h1v1h-1zM245 540h1v2h-1zM398 540h1v1h-1zM427 540h1v2h-1zM481 540h8v1h-8zM490 540h1v1h-1zM593 540h1v1h-1zM597 540h8v1h-8zM608 540h2v1h-2zM725 540h1v1h-1zM729 540h3v1h-3zM836 540h1v2h-1zM865 540h4v1h-4zM873 540h2v1h-2zM81 541h1v2h-1zM133 541h1v1h-1zM398 541h3v1h-3zM489 541h2v1h-2zM523 541h1v2h-1zM594 541h3v1h-3zM605 541h3v1h-3zM711 541h1v2h-1zM716 541h1v3h-1zM726 541h3v1h-3zM732 541h2v1h-2zM832 541h1v2h-1zM850 541h2v1h-2zM862 541h3v1h-3zM869 541h4v1h-4zM116 542h1v2h-1zM134 542h1v2h-1zM244 542h1v2h-1zM401 542h2v1h-2zM425 542h2v1h-2zM734 542h1v1h-1zM837 542h1v1h-1zM841 542h4v1h-4zM848 542h2v1h-2zM852 542h2v1h-2zM860 542h2v1h-2zM82 543h3v1h-3zM403 543h1v2h-1zM422 543h3v1h-3zM524 543h1v3h-1zM534 543h2v1h-2zM588 543h1v5h-1zM712 543h1v2h-1zM735 543h2v1h-2zM769 543h8v1h-8zM781 543h2v1h-2zM831 543h1v2h-1zM838 543h3v1h-3zM845 543h3v1h-3zM854 543h6v1h-6zM85 544h2v1h-2zM115 544h1v2h-1zM135 544h1v3h-1zM234 544h3v1h-3zM243 544h1v2h-1zM421 544h1v2h-1zM533 544h1v2h-1zM536 544h2v1h-2zM715 544h1v3h-1zM737 544h1v1h-1zM741 544h3v1h-3zM766 544h3v1h-3zM777 544h4v1h-4zM783 544h1v2h-1zM87 545h2v1h-2zM233 545h1v2h-1zM237 545h3v1h-3zM404 545h1v2h-1zM538 545h3v1h-3zM713 545h1v2h-1zM738 545h3v1h-3zM744 545h2v1h-2zM765 545h1v2h-1zM830 545h1v2h-1zM89 546h1v1h-1zM114 546h1v1h-1zM202 546h2v1h-2zM240 546h3v1h-3zM420 546h1v2h-1zM525 546h1v2h-1zM532 546h1v1h-1zM541 546h2v1h-2zM746 546h1v1h-1zM784 546h1v1h-1zM90 547h1v1h-1zM113 547h1v1h-1zM136 547h1v2h-1zM201 547h1v1h-1zM204 547h2v1h-2zM232 547h1v2h-1zM242 547h1v1h-1zM405 547h1v2h-1zM531 547h1v2h-1zM543 547h1v1h-1zM714 547h1v2h-1zM747 547h2v1h-2zM764 547h1v2h-1zM785 547h1v2h-1zM829 547h1v1h-1zM91 548h1v2h-1zM112 548h1v1h-1zM200 548h1v2h-1zM206 548h2v1h-2zM409 548h2v1h-2zM419 548h1v2h-1zM526 548h1v1h-1zM544 548h1v2h-1zM587 548h1v4h-1zM749 548h1v1h-1zM753 548h2v1h-2zM828 548h1v2h-1zM111 549h1v1h-1zM137 549h1v3h-1zM208 549h2v1h-2zM231 549h1v2h-1zM406 549h3v1h-3zM411 549h2v1h-2zM526 549h5v1h-5zM750 549h3v1h-3zM755 549h1v1h-1zM763 549h1v2h-1zM786 549h1v1h-1zM92 550h1v2h-1zM109 550h2v1h-2zM190 550h3v1h-3zM199 550h1v1h-1zM210 550h1v1h-1zM413 550h1v1h-1zM418 550h1v1h-1zM545 550h1v1h-1zM756 550h1v2h-1zM787 550h2v1h-2zM827 550h1v1h-1zM106 551h3v1h-3zM189 551h1v2h-1zM193 551h6v1h-6zM211 551h2v1h-2zM225 551h6v1h-6zM414 551h5v1h-5zM546 551h7v1h-7zM762 551h1v1h-1zM789 551h1v1h-1zM826 551h1v1h-1zM93 552h1v2h-1zM105 552h1v1h-1zM138 552h1v1h-1zM141 552h4v1h-4zM213 552h1v1h-1zM221 552h4v1h-4zM553 552h3v1h-3zM586 552h1v3h-1zM757 552h1v1h-1zM760 552h2v1h-2zM790 552h2v1h-2zM825 552h1v2h-1zM104 553h1v1h-1zM138 553h3v1h-3zM145 553h7v1h-7zM174 553h6v1h-6zM188 553h1v2h-1zM214 553h7v1h-7zM556 553h2v1h-2zM758 553h2v1h-2zM792 553h2v1h-2zM94 554h3v1h-3zM103 554h1v1h-1zM152 554h2v1h-2zM173 554h1v2h-1zM180 554h2v1h-2zM558 554h3v1h-3zM565 554h4v1h-4zM794 554h3v1h-3zM824 554h1v2h-1zM97 555h6v1h-6zM154 555h1v1h-1zM182 555h2v1h-2zM187 555h1v2h-1zM561 555h4v1h-4zM569 555h4v1h-4zM584 555h2v1h-2zM797 555h2v1h-2zM155 556h2v1h-2zM172 556h1v1h-1zM184 556h2v1h-2zM573 556h4v1h-4zM581 556h3v1h-3zM799 556h1v2h-1zM823 556h1v2h-1zM157 557h1v1h-1zM161 557h3v1h-3zM171 557h1v2h-1zM186 557h1v1h-1zM577 557h4v1h-4zM817 557h4v1h-4zM158 558h3v1h-3zM164 558h2v1h-2zM800 558h1v1h-1zM806 558h3v1h-3zM813 558h4v1h-4zM821 558h2v1h-2zM166 559h5v1h-5zM801 559h1v2h-1zM805 559h1v1h-1zM809 559h4v1h-4zM803 560h2v1h-2zM802 561h1v1h-1z" fill="#1e90ff"/>
</g>
<rect x="1169" y="58" width="2" height="1" fill="#000"/>
<rect x="1169" y="91" width="2" height="1" fill="#000"/>
<rect x="1169" y="124" width="2" height="1" fill="#000"/>
<rect x="1169" y="157" width="2" height="1" fill="#000"/>
<rect x="1169" y="190" width="2" height="1" fill="#000"/>
<rect x="1169" y="223" width="2" height="1" fill="#000"/>
<rect x="1169" y="256" width="2" height="1" fill="#000"/>
<rect x="1169" y="289" width="2" height="1" fill="#000"/>
<rect x="1169" y="322" width="2" height="1" fill="#000"/>
<rect x="1169" y="355" width="2" height="1" fill="#000"/>
<rect x="1169" y="388" width="2" height="1" fill="#000"/>
<rect x="1169" y="421" width="2" height="1" fill="#000"/>
<rect x="1170" y="126" width="41" height="11" fill="#ff0000"/>
<rect x="1170" y="206" width="41" height="11" fill="#000000"/>
<rect x="1170" y="217" width="41" height="11" fill="#ff0000"/>
<rect x="1170" y="295" width="41" height="11" fill="#00ff00"/>
<rect x="1170" y="370" width="41" height="11" fill="#0000ff"/>
<rect x="1169" y="428" width="1" height="1" fill="#000"/>
<rect x="1169" y="453" width="2" height="1" fill="#000"/>
<rect x="1169" y="493" width="1" height="1" fill="#000"/>
<rect x="1169" y="498" width="1" height="1" fill="#000"/>
<rect x="1169" y="579" width="1" height="1" fill="#000"/>
<path d="M8.8 38.6 L12.4 33.6 L16 38.6 z" fill="#000"/>
<rect x="6" y="581" width="1" height="3" fill="#000"/>
<rect x="70" y="581" width="1" height="3" fill="#000"/>
<rect x="134" y="581" width="1" height="3" fill="#000"/>
<rect x="198" y="581" width="1" height="3" fill="#000"/>
<rect x="262" y="581" width="1" height="3" fill="#000"/>
<rect x="326" y="581" width="1" height="3" fill="#000"/>
<rect x="390" y="581" width="1" height="3" fill="#000"/>
<rect x="454" y="581" width="1" height="3" fill="#000"/>
<rect x="518" y="581" width="1" height="3" fill="#000"/>
<rect x="582" y="581" width="1" height="3" fill="#000"/>
<rect x="646" y="581" width="1" height="3" fill="#000"/>
<rect x="710" y="581" width="1" height="3" fill="#000"/>
<rect x="774" y="581" width="1" height="3" fill="#000"/>
<rect x="838" y="581" width="1" height="3" fill="#000"/>
<rect x="902" y="581" width="1" height="3" fill="#000"/>
<g>
<rect x="7" y="45" width="223" height="68" fill="#ffffff"/>
<rect x="9" y="47" width="52" height="24" fill="url(#gbtn)"/>
<rect x="9" y="71" width="109" height="40" fill="url(#gpan)"/>
<rect x="176" y="47" width="52" height="24" fill="url(#gbtn)"/>
<rect x="120" y="71" width="108" height="40" fill="url(#gpan)"/>
<path d="M9.5 110.5 V47.5 H60.5 V71.5 H117.5 V110.5" fill="none" stroke="#c00000" stroke-opacity="0.55"/>
<path d="M120.5 110.5 V71.5 H176.5 V47.5 H227.5 V110.5" fill="none" stroke="#c00000" stroke-opacity="0.55"/>
<rect x="13" y="70" width="44" height="1" fill="#8c0c0c"/>
<rect x="13" y="71" width="44" height="1" fill="#f07070"/>
<rect x="180" y="70" width="44" height="1" fill="#8c0c0c"/>
<rect x="180" y="71" width="44" height="1" fill="#f07070"/>
<rect x="63" y="47" width="111" height="22" fill="#a8a8b0"/>
<rect x="64" y="48" width="109" height="20" fill="#ffffff"/>
<rect x="65" y="49" width="19" height="18" fill="url(#gspin)"/>
<rect x="84" y="48" width="1" height="20" fill="#a8a8b0"/>
<rect x="153" y="49" width="19" height="18" fill="url(#gspin)"/>
<rect x="152" y="48" width="1" height="20" fill="#a8a8b0"/>
<path d="M71 56 h6 l-3 3.5 z" fill="#5565bd"/>
<path d="M160 59 h6 l-3 -3.5 z" fill="#5565bd"/>
</g>
<text x="16.93" y="15.07" font-size="10.33" fill="#404040" textLength="18.48" lengthAdjust="spacingAndGlyphs">M30</text>
<text x="47.98" y="15.07" font-size="10.33" fill="#404040" textLength="12.76" lengthAdjust="spacingAndGlyphs">H1</text>
<text x="75.09" y="15.07" font-size="10.33" fill="#404040" textLength="13.59" lengthAdjust="spacingAndGlyphs">H4</text>
<text x="104.09" y="15.07" font-size="10.33" fill="#404040" textLength="12.6" lengthAdjust="spacingAndGlyphs">D1</text>
<text x="132.16" y="15.07" font-size="10.33" fill="#404040" textLength="14.63" lengthAdjust="spacingAndGlyphs">W1</text>
<text x="157.99" y="15.07" font-size="10.33" fill="#404040" textLength="15.98" lengthAdjust="spacingAndGlyphs">MN</text>
<text x="-0.27" y="15.07" font-size="10.33" fill="#404040" textLength="7.97" lengthAdjust="spacingAndGlyphs">15</text>
<text x="20.92" y="38.76" font-size="9.33" fill="#000" textLength="65.62" lengthAdjust="spacingAndGlyphs" stroke="#000" stroke-width="0.22">USDCAD,Daily</text>
<text x="92.91" y="38.76" font-size="9.33" fill="#000" textLength="33.29" lengthAdjust="spacingAndGlyphs" stroke="#000" stroke-width="0.22">1.32794</text>
<text x="128.78" y="38.76" font-size="9.33" fill="#000" textLength="33.12" lengthAdjust="spacingAndGlyphs" stroke="#000" stroke-width="0.22">1.32915</text>
<text x="165.1" y="38.76" font-size="9.33" fill="#000" textLength="33.4" lengthAdjust="spacingAndGlyphs" stroke="#000" stroke-width="0.22">1.32628</text>
<text x="200.84" y="38.76" font-size="9.33" fill="#000" textLength="33.11" lengthAdjust="spacingAndGlyphs" stroke="#000" stroke-width="0.22">1.32905</text>
<text x="9.79" y="438.76" font-size="9.33" fill="#000" textLength="66.71" lengthAdjust="spacingAndGlyphs" stroke="#000" stroke-width="0.22">MACD(12,26,9)</text>
<text x="79.16" y="438.76" font-size="9.33" fill="#000" textLength="37.36" lengthAdjust="spacingAndGlyphs" stroke="#000" stroke-width="0.22">0.004983</text>
<text x="120.25" y="438.76" font-size="9.33" fill="#000" textLength="37.49" lengthAdjust="spacingAndGlyphs" stroke="#000" stroke-width="0.22">0.003221</text>
<text x="9.98" y="508.76" font-size="9.33" fill="#000" textLength="31.86" lengthAdjust="spacingAndGlyphs" stroke="#000" stroke-width="0.22">RSI(14)</text>
<text x="45.08" y="508.76" font-size="9.33" fill="#000" textLength="32.6" lengthAdjust="spacingAndGlyphs" stroke="#000" stroke-width="0.22">78.2452</text>
<text x="1173.98" y="61.76" font-size="9.33" fill="#000" textLength="33.26" lengthAdjust="spacingAndGlyphs" stroke="#000" stroke-width="0.22">1.35455</text>
<text x="1173.98" y="94.76" font-size="9.33" fill="#000" textLength="33.26" lengthAdjust="spacingAndGlyphs" stroke="#000" stroke-width="0.22">1.34900</text>
<text x="1173.98" y="127.76" font-size="9.33" fill="#000" textLength="33.26" lengthAdjust="spacingAndGlyphs" stroke="#000" stroke-width="0.22">1.34360</text>
<text x="1173.98" y="160.76" font-size="9.33" fill="#000" textLength="33.26" lengthAdjust="spacingAndGlyphs" stroke="#000" stroke-width="0.22">1.33805</text>
<text x="1173.98" y="193.76" font-size="9.33" fill="#000" textLength="33.26" lengthAdjust="spacingAndGlyphs" stroke="#000" stroke-width="0.22">1.33250</text>
<text x="1173.98" y="259.76" font-size="9.33" fill="#000" textLength="33.26" lengthAdjust="spacingAndGlyphs" stroke="#000" stroke-width="0.22">1.32155</text>
<text x="1173.98" y="292.76" font-size="9.33" fill="#000" textLength="33.26" lengthAdjust="spacingAndGlyphs" stroke="#000" stroke-width="0.22">1.31600</text>
<text x="1173.98" y="325.76" font-size="9.33" fill="#000" textLength="33.26" lengthAdjust="spacingAndGlyphs" stroke="#000" stroke-width="0.22">1.31045</text>
<text x="1173.98" y="358.76" font-size="9.33" fill="#000" textLength="33.26" lengthAdjust="spacingAndGlyphs" stroke="#000" stroke-width="0.22">1.30490</text>
<text x="1173.98" y="391.76" font-size="9.33" fill="#000" textLength="33.26" lengthAdjust="spacingAndGlyphs" stroke="#000" stroke-width="0.22">1.29935</text>
<text x="1173.98" y="424.76" font-size="9.33" fill="#000" textLength="33.26" lengthAdjust="spacingAndGlyphs" stroke="#000" stroke-width="0.22">1.29395</text>
<text x="1174.1" y="134.76" font-size="9.33" fill="#ffffff" textLength="33.3" lengthAdjust="spacingAndGlyphs" stroke="#ffffff" stroke-width="0.22">1.34217</text>
<text x="1173.98" y="214.76" font-size="9.33" fill="#ffffff" textLength="33.26" lengthAdjust="spacingAndGlyphs" stroke="#ffffff" stroke-width="0.22">1.32905</text>
<text x="1173.98" y="225.76" font-size="9.33" fill="#ffffff" textLength="33.26" lengthAdjust="spacingAndGlyphs" stroke="#ffffff" stroke-width="0.22">1.32700</text>
<text x="1173.98" y="303.76" font-size="9.33" fill="#ffffff" textLength="33.26" lengthAdjust="spacingAndGlyphs" stroke="#ffffff" stroke-width="0.22">1.31400</text>
<text x="1173.98" y="378.76" font-size="9.33" fill="#ffffff" textLength="33.26" lengthAdjust="spacingAndGlyphs" stroke="#ffffff" stroke-width="0.22">1.30150</text>
<text x="1171.96" y="436.76" font-size="9.33" fill="#000" textLength="38.36" lengthAdjust="spacingAndGlyphs" stroke="#000" stroke-width="0.22">0.005646</text>
<text x="1171.96" y="456.76" font-size="9.33" fill="#000" textLength="17.8" lengthAdjust="spacingAndGlyphs" stroke="#000" stroke-width="0.22">0.00</text>
<text x="1171.9" y="490.76" font-size="9.33" fill="#000" textLength="41.38" lengthAdjust="spacingAndGlyphs" stroke="#000" stroke-width="0.22">-0.008944</text>
<text x="1171.84" y="506.76" font-size="9.33" fill="#000" textLength="15.33" lengthAdjust="spacingAndGlyphs" stroke="#000" stroke-width="0.22">100</text>
<text x="1170.81" y="525.76" font-size="9.33" fill="#000" textLength="10.06" lengthAdjust="spacingAndGlyphs" stroke="#000" stroke-width="0.22">70</text>
<text x="1170.82" y="558.76" font-size="9.33" fill="#000" textLength="10.26" lengthAdjust="spacingAndGlyphs" stroke="#000" stroke-width="0.22">30</text>
<text x="1171.89" y="576.76" font-size="9.33" fill="#000" textLength="5.62" lengthAdjust="spacingAndGlyphs" stroke="#000" stroke-width="0.22">0</text>
<text x="5.14" y="592.76" font-size="9.33" fill="#000" textLength="55.1" lengthAdjust="spacingAndGlyphs" stroke="#000" stroke-width="0.22">13 May 2019</text>
<text x="68.65" y="592.76" font-size="9.33" fill="#000" textLength="55.49" lengthAdjust="spacingAndGlyphs" stroke="#000" stroke-width="0.22">31 May 2019</text>
<text x="133.17" y="592.76" font-size="9.33" fill="#000" textLength="49.91" lengthAdjust="spacingAndGlyphs" stroke="#000" stroke-width="0.22">19 Jun 2019</text>
<text x="196.67" y="592.76" font-size="9.33" fill="#000" textLength="42.65" lengthAdjust="spacingAndGlyphs" stroke="#000" stroke-width="0.22">8 Jul 2019</text>
<text x="260.68" y="592.76" font-size="9.33" fill="#000" textLength="47.82" lengthAdjust="spacingAndGlyphs" stroke="#000" stroke-width="0.22">26 Jul 2019</text>
<text x="324.78" y="592.76" font-size="9.33" fill="#000" textLength="53.21" lengthAdjust="spacingAndGlyphs" stroke="#000" stroke-width="0.22">14 Aug 2019</text>
<text x="388.68" y="592.76" font-size="9.33" fill="#000" textLength="47.64" lengthAdjust="spacingAndGlyphs" stroke="#000" stroke-width="0.22">2 Sep 2019</text>
<text x="452.68" y="592.76" font-size="9.33" fill="#000" textLength="52.27" lengthAdjust="spacingAndGlyphs" stroke="#000" stroke-width="0.22">20 Sep 2019</text>
<text x="516.55" y="592.76" font-size="9.33" fill="#000" textLength="46.77" lengthAdjust="spacingAndGlyphs" stroke="#000" stroke-width="0.22">9 Oct 2019</text>
<text x="580.96" y="592.76" font-size="9.33" fill="#000" textLength="51.24" lengthAdjust="spacingAndGlyphs" stroke="#000" stroke-width="0.22">28 Oct 2019</text>
<text x="644.96" y="592.76" font-size="9.33" fill="#000" textLength="54.18" lengthAdjust="spacingAndGlyphs" stroke="#000" stroke-width="0.22">15 Nov 2019</text>
<text x="708.85" y="592.76" font-size="9.33" fill="#000" textLength="47.44" lengthAdjust="spacingAndGlyphs" stroke="#000" stroke-width="0.22">4 Dec 2019</text>
<text x="772.96" y="592.76" font-size="9.33" fill="#000" textLength="52.36" lengthAdjust="spacingAndGlyphs" stroke="#000" stroke-width="0.22">23 Dec 2019</text>
<text x="837.01" y="592.76" font-size="9.33" fill="#000" textLength="49.94" lengthAdjust="spacingAndGlyphs" stroke="#000" stroke-width="0.22">10 Jan 2020</text>
<text x="900.5" y="592.76" font-size="9.33" fill="#000" textLength="51.0" lengthAdjust="spacingAndGlyphs" stroke="#000" stroke-width="0.22">29 Jan 2020</text>
<text x="18.65" y="618.0" font-size="12.95" fill="#6e6e6e" textLength="80.82" lengthAdjust="spacingAndGlyphs">EURUSD,Daily</text>
<text x="122.33" y="618.0" font-size="12.95" fill="#6e6e6e" textLength="81.76" lengthAdjust="spacingAndGlyphs">AUDUSD,Daily</text>
<text x="224.73" y="618.0" font-size="12.95" fill="#6e6e6e" textLength="79.88" lengthAdjust="spacingAndGlyphs">USDCHF,Daily</text>
<text x="325.78" y="618.0" font-size="12.95" fill="#000000" textLength="81.25" lengthAdjust="spacingAndGlyphs">USDCAD,Daily</text>
<text x="428.52" y="618.0" font-size="12.95" fill="#6e6e6e" textLength="83.4" lengthAdjust="spacingAndGlyphs">USDCNH,Daily</text>
<text x="533.63" y="618.0" font-size="12.95" fill="#6e6e6e" textLength="69.33" lengthAdjust="spacingAndGlyphs">XAUUSD,H4</text>
<text x="624.42" y="618.0" font-size="12.95" fill="#6e6e6e" textLength="47.72" lengthAdjust="spacingAndGlyphs">DJ30,H4</text>
<text x="694.68" y="618.0" font-size="12.95" fill="#6e6e6e" textLength="60.2" lengthAdjust="spacingAndGlyphs">USDOil,H1</text>
<text x="776.58" y="618.0" font-size="12.95" fill="#6e6e6e" textLength="67.2" lengthAdjust="spacingAndGlyphs">USDCHF,H1</text>
<text x="866.83" y="618.0" font-size="12.95" fill="#6e6e6e" textLength="80.65" lengthAdjust="spacingAndGlyphs">GBPUSD,Daily</text>
<text x="970.6" y="618.0" font-size="12.95" fill="#6e6e6e" textLength="68.41" lengthAdjust="spacingAndGlyphs">EURUSD,H1</text>
<text x="1062.08" y="618.0" font-size="12.95" fill="#6e6e6e" textLength="68.65" lengthAdjust="spacingAndGlyphs">GBPAUD,H1</text>
<text x="1152.77" y="618.0" font-size="12.95" fill="#6e6e6e" textLength="25.03" lengthAdjust="spacingAndGlyphs">USD</text>
<text x="20.41" y="63.0" font-size="12.95" fill="#ffffff" textLength="26.73" lengthAdjust="spacingAndGlyphs">SELL</text>
<text x="188.58" y="63.0" font-size="12.95" fill="#ffffff" textLength="25.33" lengthAdjust="spacingAndGlyphs">BUY</text>
<text x="125.39" y="61.83" font-size="12.04" fill="#000000" textLength="23.99" lengthAdjust="spacingAndGlyphs">5.00</text>
<text x="28.96" y="101.89" font-size="12.38" fill="#ffffff" textLength="23.74" lengthAdjust="spacingAndGlyphs" font-weight="bold" stroke="#ffffff" stroke-width="0.25">1.32</text>
<text x="138.88" y="101.89" font-size="12.38" fill="#ffffff" textLength="24.21" lengthAdjust="spacingAndGlyphs" font-weight="bold" stroke="#ffffff" stroke-width="0.25">1.32</text>
<text x="96.13" y="85.68" font-size="12.05" fill="#ffffff" textLength="6.24" lengthAdjust="spacingAndGlyphs" font-weight="bold" stroke="#ffffff" stroke-width="0.25">5</text>
<text x="207.02" y="85.68" font-size="12.05" fill="#ffffff" textLength="6.62" lengthAdjust="spacingAndGlyphs" font-weight="bold" stroke="#ffffff" stroke-width="0.25">5</text>
<text x="55.69" y="102.12" font-size="34.9" fill="#ffffff" textLength="36.84" lengthAdjust="spacingAndGlyphs" stroke="url(#gpan)" stroke-width="0.5">90</text>
<text x="167.05" y="102.12" font-size="34.9" fill="#ffffff" textLength="35.74" lengthAdjust="spacingAndGlyphs" stroke="url(#gpan)" stroke-width="0.5">92</text>
</svg>
</body></html>
